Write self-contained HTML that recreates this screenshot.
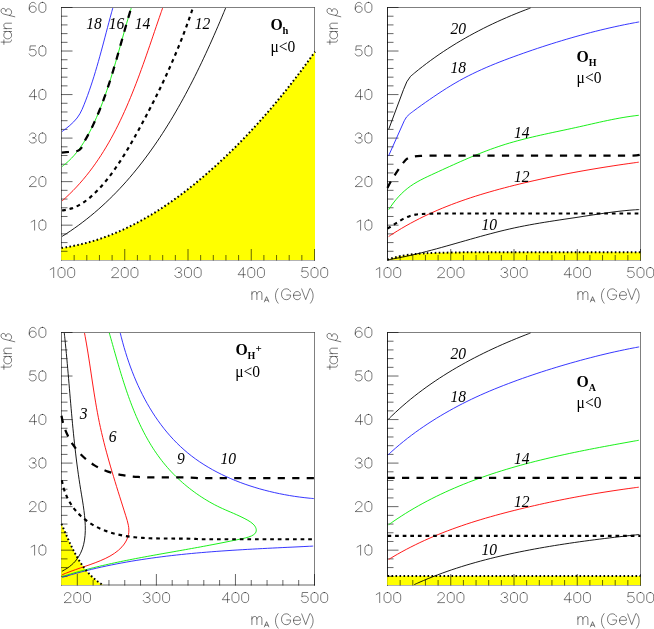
<!DOCTYPE html>
<html><head><meta charset="utf-8"><title>chart</title>
<style>
html,body{margin:0;padding:0;background:#fff;}
body{width:654px;height:629px;overflow:hidden;font-family:"Liberation Sans",sans-serif;}
svg{display:block;will-change:transform;}
text{fill:#000;}
</style></head><body>
<svg width="654" height="629" viewBox="0 0 654 629">
<rect width="654" height="629" fill="#fff"/>
<g>
<path d="M61.0,7.5 H315.0" stroke="#000" stroke-opacity="0.5" stroke-width="1" fill="none"/>
<path d="M314.5,7.5 V260.5" stroke="#000" stroke-opacity="0.5" stroke-width="1" fill="none"/>
<path d="M61.5,7.5 V260.5" stroke="#000" stroke-opacity="0.55" stroke-width="1" fill="none"/>
<path d="M61.0,260.0 H315.0" stroke="#000" stroke-opacity="0.6" stroke-width="1" fill="none"/>
<path d="M61.2,247.8 L61.52,247.89 C62.37,247.77 64.91,247.41 66.59,247.14 C68.28,246.86 69.95,246.57 71.62,246.25 C73.29,245.94 74.95,245.60 76.61,245.25 C78.26,244.89 79.91,244.52 81.55,244.12 C83.20,243.73 84.83,243.32 86.46,242.88 C88.08,242.45 89.70,242.00 91.32,241.53 C92.93,241.06 94.54,240.57 96.14,240.07 C97.74,239.56 99.33,239.04 100.92,238.50 C102.50,237.96 104.08,237.40 105.65,236.82 C107.23,236.25 108.79,235.66 110.35,235.05 C111.91,234.44 113.46,233.81 115.01,233.17 C116.55,232.53 118.09,231.88 119.63,231.20 C121.16,230.53 122.68,229.84 124.20,229.14 C125.72,228.44 127.24,227.72 128.74,226.99 C130.25,226.25 131.75,225.51 133.24,224.74 C134.73,223.98 136.22,223.21 137.70,222.42 C139.18,221.63 140.66,220.83 142.12,220.01 C143.59,219.20 145.05,218.37 146.51,217.53 C147.96,216.69 149.41,215.83 150.86,214.97 C152.30,214.10 153.74,213.22 155.17,212.33 C156.60,211.44 158.02,210.54 159.44,209.63 C160.86,208.71 162.27,207.79 163.67,206.85 C165.08,205.92 166.48,204.97 167.87,204.02 C169.26,203.06 170.65,202.09 172.03,201.12 C173.42,200.14 174.79,199.16 176.16,198.16 C177.53,197.17 178.89,196.16 180.25,195.15 C181.61,194.13 182.96,193.11 184.31,192.08 C185.65,191.05 186.99,190.01 188.33,188.96 C189.66,187.92 190.99,186.86 192.31,185.80 C193.63,184.74 194.95,183.67 196.26,182.59 C197.57,181.52 198.88,180.43 200.18,179.34 C201.48,178.25 202.77,177.15 204.06,176.05 C205.35,174.95 206.63,173.84 207.91,172.73 C209.19,171.61 210.46,170.49 211.72,169.36 C212.99,168.24 214.25,167.11 215.51,165.97 C216.76,164.83 218.01,163.69 219.26,162.54 C220.50,161.39 221.74,160.23 222.97,159.07 C224.21,157.91 225.44,156.75 226.66,155.58 C227.88,154.41 229.10,153.23 230.31,152.05 C231.52,150.87 232.73,149.68 233.93,148.49 C235.13,147.30 236.33,146.10 237.52,144.90 C238.71,143.70 239.90,142.49 241.08,141.28 C242.26,140.07 243.44,138.85 244.61,137.63 C245.78,136.41 246.95,135.19 248.11,133.96 C249.27,132.73 250.43,131.49 251.58,130.25 C252.73,129.02 253.87,127.77 255.01,126.53 C256.15,125.28 257.29,124.03 258.42,122.77 C259.55,121.51 260.68,120.25 261.80,118.99 C262.92,117.73 264.04,116.46 265.15,115.19 C266.26,113.92 267.37,112.64 268.47,111.36 C269.58,110.08 270.67,108.80 271.77,107.51 C272.86,106.22 273.95,104.93 275.03,103.64 C276.12,102.34 277.19,101.05 278.27,99.75 C279.34,98.45 280.41,97.14 281.48,95.83 C282.54,94.53 283.60,93.22 284.66,91.90 C285.72,90.59 286.77,89.27 287.82,87.95 C288.86,86.63 289.91,85.31 290.95,83.98 C291.98,82.66 293.02,81.33 294.05,80.00 C295.08,78.66 296.10,77.33 297.13,75.99 C298.15,74.66 299.16,73.32 300.18,71.98 C301.19,70.63 302.20,69.29 303.20,67.94 C304.21,66.60 305.21,65.25 306.20,63.90 C307.20,62.55 308.19,61.19 309.18,59.84 C310.17,58.48 311.15,57.12 312.13,55.76 C313.11,54.40 314.57,52.36 315.06,51.68 L315,260 L61.2,260 Z" fill="#ffff00"/>
<path d="M61.00,251.29 h6.5 M61.00,242.59 h6.5 M61.00,233.88 h6.5 M61.00,225.17 h11.5 M61.00,216.47 h6.5 M61.00,207.76 h6.5 M61.00,199.05 h6.5 M61.00,190.34 h6.5 M61.00,181.64 h11.5 M61.00,172.93 h6.5 M61.00,164.22 h6.5 M61.00,155.52 h6.5 M61.00,146.81 h6.5 M61.00,138.10 h11.5 M61.00,129.40 h6.5 M61.00,120.69 h6.5 M61.00,111.98 h6.5 M61.00,103.28 h6.5 M61.00,94.57 h11.5 M61.00,85.86 h6.5 M61.00,77.16 h6.5 M61.00,68.45 h6.5 M61.00,59.74 h6.5 M61.00,51.03 h11.5 M61.00,42.33 h6.5 M61.00,33.62 h6.5 M61.00,24.91 h6.5 M61.00,16.21 h6.5 M61.00,7.50 h11.5 M74.15,260.50 v-5.5 M86.80,260.50 v-5.5 M99.45,260.50 v-5.5 M112.10,260.50 v-5.5 M124.75,260.50 v-11.5 M137.40,260.50 v-5.5 M150.05,260.50 v-5.5 M162.70,260.50 v-5.5 M175.35,260.50 v-5.5 M188.00,260.50 v-11.5 M200.65,260.50 v-5.5 M213.30,260.50 v-5.5 M225.95,260.50 v-5.5 M238.60,260.50 v-5.5 M251.25,260.50 v-11.5 M263.90,260.50 v-5.5 M276.55,260.50 v-5.5 M289.20,260.50 v-5.5 M301.85,260.50 v-5.5 M314.50,260.50 v-11.5" stroke="#000" stroke-opacity="0.6" stroke-width="1" fill="none"/>
<path d="M62.00,131.59 C62.65,131.11 64.57,129.71 65.88,128.69 C67.19,127.67 68.55,126.59 69.84,125.45 C71.14,124.32 72.45,123.13 73.65,121.89 C74.86,120.65 76.03,119.35 77.07,118.00 C78.10,116.65 79.03,115.24 79.87,113.80 C80.71,112.36 81.40,110.86 82.10,109.36 C82.79,107.85 83.39,106.31 84.02,104.77 C84.64,103.23 85.24,101.68 85.84,100.12 C86.43,98.56 87.01,97.00 87.59,95.43 C88.16,93.86 88.72,92.28 89.28,90.70 C89.83,89.11 90.37,87.52 90.90,85.93 C91.44,84.33 91.96,82.73 92.48,81.13 C93.00,79.52 93.50,77.91 94.00,76.30 C94.51,74.69 95.00,73.07 95.48,71.45 C95.97,69.82 96.45,68.20 96.92,66.57 C97.40,64.95 97.87,63.31 98.33,61.68 C98.79,60.05 99.25,58.42 99.70,56.78 C100.16,55.15 100.61,53.51 101.05,51.87 C101.50,50.23 101.94,48.60 102.38,46.96 C102.82,45.32 103.26,43.68 103.69,42.05 C104.13,40.41 104.56,38.77 104.99,37.14 C105.42,35.50 105.85,33.87 106.28,32.24 C106.71,30.61 107.14,28.98 107.57,27.35 C108.00,25.72 108.43,24.10 108.86,22.48 C109.29,20.86 109.73,19.24 110.16,17.63 C110.60,16.01 111.03,14.40 111.47,12.80 C111.91,11.20 112.58,8.80 112.80,8.00" stroke="#2020ff" fill="none" stroke-width="0.9"/>
<path d="M62.04,166.55 C62.60,166.11 64.31,164.81 65.39,163.91 C66.47,163.01 67.51,162.09 68.52,161.15 C69.54,160.21 70.51,159.25 71.46,158.27 C72.41,157.30 73.33,156.30 74.22,155.29 C75.11,154.28 75.97,153.26 76.80,152.22 C77.64,151.18 78.45,150.12 79.24,149.05 C80.02,147.98 80.78,146.90 81.53,145.80 C82.27,144.70 82.99,143.59 83.69,142.47 C84.40,141.35 85.08,140.21 85.75,139.07 C86.42,137.92 87.07,136.77 87.71,135.60 C88.35,134.44 88.97,133.26 89.58,132.08 C90.20,130.89 90.80,129.70 91.39,128.50 C91.99,127.30 92.57,126.09 93.15,124.88 C93.72,123.66 94.29,122.44 94.84,121.21 C95.40,119.99 95.95,118.75 96.49,117.51 C97.03,116.27 97.57,115.02 98.09,113.76 C98.62,112.51 99.13,111.25 99.64,109.98 C100.15,108.72 100.65,107.45 101.15,106.17 C101.64,104.90 102.13,103.61 102.61,102.33 C103.10,101.04 103.57,99.75 104.04,98.46 C104.51,97.17 104.97,95.87 105.43,94.57 C105.88,93.26 106.33,91.96 106.78,90.65 C107.22,89.34 107.66,88.03 108.10,86.71 C108.53,85.40 108.96,84.08 109.39,82.76 C109.81,81.44 110.23,80.12 110.65,78.79 C111.07,77.47 111.48,76.14 111.89,74.82 C112.29,73.49 112.70,72.16 113.10,70.83 C113.50,69.50 113.89,68.17 114.29,66.84 C114.68,65.50 115.07,64.17 115.46,62.84 C115.85,61.51 116.23,60.17 116.62,58.84 C117.00,57.51 117.38,56.18 117.76,54.85 C118.14,53.52 118.51,52.18 118.89,50.86 C119.26,49.53 119.64,48.20 120.01,46.87 C120.38,45.55 120.75,44.22 121.12,42.90 C121.49,41.58 121.86,40.25 122.23,38.94 C122.60,37.62 122.97,36.30 123.34,34.99 C123.71,33.68 124.08,32.37 124.45,31.06 C124.81,29.76 125.18,28.45 125.55,27.15 C125.92,25.86 126.30,24.56 126.67,23.27 C127.04,21.98 127.41,20.69 127.79,19.41 C128.16,18.13 128.54,16.85 128.92,15.58 C129.30,14.31 129.68,13.04 130.06,11.78 C130.44,10.52 131.02,8.64 131.21,8.02" stroke="#00ee00" fill="none" stroke-width="0.9"/>
<path d="M62.05,200.96 C62.67,200.40 64.58,198.72 65.82,197.58 C67.06,196.44 68.28,195.29 69.48,194.12 C70.69,192.96 71.88,191.78 73.05,190.59 C74.22,189.39 75.37,188.19 76.50,186.97 C77.64,185.75 78.76,184.52 79.86,183.28 C80.97,182.04 82.06,180.78 83.13,179.52 C84.20,178.25 85.26,176.98 86.30,175.69 C87.34,174.40 88.36,173.10 89.38,171.79 C90.39,170.48 91.38,169.16 92.37,167.83 C93.35,166.50 94.32,165.15 95.27,163.80 C96.23,162.45 97.17,161.09 98.09,159.72 C99.02,158.35 99.93,156.97 100.83,155.58 C101.74,154.19 102.62,152.79 103.50,151.38 C104.38,149.98 105.24,148.56 106.09,147.14 C106.94,145.71 107.78,144.28 108.61,142.84 C109.44,141.40 110.25,139.95 111.06,138.50 C111.86,137.04 112.66,135.58 113.44,134.11 C114.22,132.64 114.99,131.16 115.76,129.68 C116.52,128.20 117.27,126.71 118.02,125.21 C118.76,123.72 119.49,122.21 120.21,120.71 C120.94,119.20 121.65,117.68 122.36,116.17 C123.06,114.65 123.76,113.12 124.45,111.59 C125.14,110.07 125.82,108.53 126.49,106.99 C127.16,105.45 127.83,103.91 128.48,102.36 C129.14,100.82 129.79,99.27 130.43,97.71 C131.08,96.16 131.71,94.60 132.34,93.04 C132.97,91.48 133.59,89.91 134.21,88.34 C134.83,86.78 135.44,85.21 136.04,83.63 C136.64,82.06 137.24,80.49 137.84,78.91 C138.43,77.33 139.02,75.75 139.60,74.17 C140.19,72.59 140.77,71.01 141.34,69.43 C141.92,67.84 142.49,66.26 143.06,64.67 C143.62,63.09 144.19,61.50 144.75,59.92 C145.31,58.33 145.86,56.75 146.42,55.16 C146.97,53.57 147.52,51.99 148.07,50.40 C148.62,48.82 149.16,47.23 149.71,45.65 C150.25,44.06 150.79,42.48 151.33,40.90 C151.87,39.32 152.41,37.73 152.95,36.16 C153.49,34.58 154.02,33.00 154.56,31.43 C155.10,29.85 155.63,28.28 156.17,26.71 C156.70,25.14 157.24,23.57 157.77,22.01 C158.31,20.44 158.84,18.88 159.38,17.32 C159.92,15.77 160.45,14.21 160.99,12.66 C161.53,11.11 162.34,8.80 162.61,8.02" stroke="#ff0000" fill="none" stroke-width="0.9"/>
<path d="M62.02,236.44 C62.73,235.99 64.88,234.64 66.30,233.72 C67.72,232.80 69.12,231.87 70.52,230.93 C71.91,229.98 73.30,229.03 74.67,228.06 C76.04,227.09 77.40,226.12 78.76,225.13 C80.11,224.14 81.45,223.14 82.78,222.12 C84.11,221.11 85.43,220.09 86.74,219.05 C88.05,218.02 89.35,216.97 90.64,215.92 C91.93,214.86 93.21,213.80 94.48,212.72 C95.75,211.64 97.01,210.56 98.26,209.46 C99.51,208.36 100.75,207.25 101.98,206.14 C103.21,205.02 104.43,203.89 105.64,202.75 C106.86,201.62 108.06,200.47 109.25,199.31 C110.44,198.16 111.62,196.99 112.80,195.82 C113.97,194.64 115.13,193.46 116.29,192.27 C117.44,191.07 118.59,189.87 119.73,188.66 C120.86,187.45 121.99,186.23 123.11,185.01 C124.23,183.78 125.34,182.54 126.44,181.30 C127.54,180.05 128.63,178.80 129.72,177.54 C130.80,176.28 131.87,175.01 132.94,173.74 C134.01,172.46 135.07,171.18 136.12,169.88 C137.17,168.59 138.21,167.29 139.24,165.99 C140.28,164.68 141.30,163.37 142.32,162.05 C143.34,160.73 144.34,159.40 145.35,158.07 C146.35,156.73 147.34,155.39 148.33,154.04 C149.31,152.70 150.29,151.34 151.26,149.98 C152.23,148.62 153.19,147.26 154.15,145.88 C155.10,144.51 156.05,143.13 156.99,141.75 C157.93,140.36 158.87,138.97 159.79,137.58 C160.72,136.18 161.64,134.78 162.55,133.37 C163.46,131.97 164.36,130.56 165.26,129.14 C166.16,127.72 167.05,126.30 167.93,124.87 C168.82,123.45 169.70,122.01 170.57,120.58 C171.44,119.14 172.30,117.70 173.16,116.26 C174.02,114.81 174.87,113.36 175.71,111.91 C176.56,110.45 177.40,109.00 178.23,107.53 C179.06,106.07 179.89,104.61 180.71,103.14 C181.53,101.67 182.34,100.20 183.15,98.72 C183.95,97.24 184.76,95.76 185.55,94.28 C186.35,92.80 187.14,91.31 187.92,89.82 C188.71,88.34 189.49,86.84 190.26,85.35 C191.03,83.86 191.80,82.36 192.57,80.86 C193.33,79.36 194.09,77.86 194.84,76.36 C195.59,74.85 196.34,73.35 197.08,71.84 C197.82,70.33 198.56,68.82 199.29,67.31 C200.02,65.80 200.75,64.28 201.47,62.77 C202.19,61.25 202.91,59.74 203.62,58.22 C204.33,56.70 205.04,55.18 205.74,53.67 C206.45,52.15 207.15,50.62 207.84,49.10 C208.54,47.58 209.23,46.06 209.91,44.54 C210.60,43.02 211.28,41.49 211.96,39.97 C212.63,38.45 213.31,36.92 213.98,35.40 C214.65,33.88 215.31,32.35 215.97,30.83 C216.63,29.31 217.29,27.78 217.95,26.26 C218.60,24.74 219.25,23.22 219.90,21.70 C220.54,20.18 221.19,18.66 221.83,17.14 C222.47,15.62 223.10,14.10 223.74,12.58 C224.37,11.06 225.31,8.79 225.63,8.03" stroke="#000" fill="none" stroke-width="0.9"/>
<path d="M61.80,152.60 C62.93,152.50 66.23,152.22 68.60,152.00 C70.97,151.78 74.18,151.67 76.00,151.30 C77.82,150.93 78.50,150.50 79.50,149.80 C80.50,149.10 81.30,148.32 82.00,147.10 C82.70,145.88 83.07,143.81 83.69,142.47 C84.32,141.13 85.08,140.21 85.75,139.07 C86.42,137.92 87.07,136.77 87.71,135.60 C88.35,134.44 88.97,133.26 89.58,132.08 C90.20,130.89 90.80,129.70 91.39,128.50 C91.99,127.30 92.57,126.09 93.15,124.88 C93.72,123.66 94.29,122.44 94.84,121.21 C95.40,119.99 95.95,118.75 96.49,117.51 C97.03,116.27 97.57,115.02 98.09,113.76 C98.62,112.51 99.13,111.25 99.64,109.98 C100.15,108.72 100.65,107.45 101.15,106.17 C101.64,104.90 102.13,103.61 102.61,102.33 C103.10,101.04 103.57,99.75 104.04,98.46 C104.51,97.17 104.97,95.87 105.43,94.57 C105.88,93.26 106.33,91.96 106.78,90.65 C107.22,89.34 107.66,88.03 108.10,86.71 C108.53,85.40 108.96,84.08 109.39,82.76 C109.81,81.44 110.23,80.12 110.65,78.79 C111.07,77.47 111.48,76.14 111.89,74.82 C112.29,73.49 112.70,72.16 113.10,70.83 C113.50,69.50 113.89,68.17 114.29,66.84 C114.68,65.50 115.07,64.17 115.46,62.84 C115.85,61.51 116.23,60.17 116.62,58.84 C117.00,57.51 117.38,56.18 117.76,54.85 C118.14,53.52 118.51,52.18 118.89,50.86 C119.26,49.53 119.64,48.20 120.01,46.87 C120.38,45.55 120.75,44.22 121.12,42.90 C121.49,41.58 121.86,40.25 122.23,38.94 C122.60,37.62 122.97,36.30 123.34,34.99 C123.71,33.68 124.08,32.37 124.45,31.06 C124.81,29.76 125.18,28.45 125.55,27.15 C125.92,25.86 126.30,24.56 126.67,23.27 C127.04,21.98 127.41,20.69 127.79,19.41 C128.16,18.13 128.54,16.85 128.92,15.58 C129.30,14.31 129.68,13.04 130.06,11.78 C130.44,10.52 131.02,8.64 131.21,8.02" fill="none" stroke="#000" stroke-width="2.25" stroke-dasharray="7.2 7.3"/>
<path d="M62.09,210.49 C62.91,210.36 65.42,210.05 67.03,209.69 C68.64,209.34 70.22,208.89 71.76,208.36 C73.30,207.83 74.80,207.21 76.27,206.53 C77.74,205.85 79.18,205.09 80.59,204.27 C82.00,203.44 83.38,202.55 84.73,201.61 C86.08,200.67 87.40,199.66 88.69,198.61 C89.99,197.57 91.25,196.47 92.50,195.33 C93.74,194.20 94.96,193.02 96.16,191.81 C97.35,190.61 98.52,189.37 99.68,188.11 C100.83,186.85 101.96,185.57 103.08,184.27 C104.19,182.98 105.29,181.66 106.36,180.33 C107.44,179.00 108.50,177.66 109.55,176.30 C110.59,174.94 111.62,173.57 112.63,172.19 C113.64,170.80 114.63,169.41 115.62,168.00 C116.60,166.59 117.57,165.17 118.52,163.75 C119.48,162.32 120.42,160.88 121.35,159.43 C122.28,157.99 123.19,156.53 124.10,155.07 C125.01,153.61 125.90,152.14 126.79,150.67 C127.68,149.19 128.55,147.71 129.42,146.23 C130.29,144.74 131.15,143.25 132.00,141.76 C132.86,140.27 133.70,138.78 134.54,137.28 C135.38,135.78 136.21,134.29 137.04,132.79 C137.87,131.29 138.69,129.79 139.51,128.29 C140.32,126.80 141.14,125.30 141.95,123.80 C142.76,122.30 143.56,120.80 144.36,119.30 C145.16,117.80 145.95,116.31 146.74,114.81 C147.53,113.31 148.31,111.80 149.09,110.30 C149.87,108.80 150.65,107.30 151.42,105.80 C152.18,104.29 152.95,102.79 153.71,101.28 C154.47,99.77 155.22,98.27 155.97,96.76 C156.72,95.25 157.47,93.74 158.21,92.23 C158.94,90.71 159.68,89.20 160.41,87.68 C161.14,86.17 161.86,84.65 162.58,83.13 C163.30,81.61 164.01,80.09 164.72,78.56 C165.43,77.04 166.13,75.51 166.83,73.98 C167.53,72.45 168.22,70.92 168.91,69.38 C169.60,67.85 170.28,66.31 170.96,64.77 C171.64,63.23 172.31,61.68 172.97,60.14 C173.64,58.59 174.30,57.04 174.96,55.48 C175.61,53.93 176.26,52.37 176.91,50.81 C177.55,49.25 178.19,47.68 178.83,46.11 C179.46,44.54 180.09,42.97 180.72,41.39 C181.34,39.82 181.96,38.23 182.57,36.65 C183.18,35.06 183.79,33.47 184.39,31.88 C184.99,30.28 185.59,28.68 186.18,27.08 C186.77,25.47 187.35,23.87 187.93,22.25 C188.51,20.64 189.08,19.02 189.65,17.39 C190.22,15.77 190.78,14.14 191.34,12.50 C191.89,10.87 192.71,8.40 192.99,7.58" fill="none" stroke="#000" stroke-width="2.15" stroke-dasharray="3.7 3.9"/>
<path d="M61.52,247.89 C62.37,247.77 64.91,247.41 66.59,247.14 C68.28,246.86 69.95,246.57 71.62,246.25 C73.29,245.94 74.95,245.60 76.61,245.25 C78.26,244.89 79.91,244.52 81.55,244.12 C83.20,243.73 84.83,243.32 86.46,242.88 C88.08,242.45 89.70,242.00 91.32,241.53 C92.93,241.06 94.54,240.57 96.14,240.07 C97.74,239.56 99.33,239.04 100.92,238.50 C102.50,237.96 104.08,237.40 105.65,236.82 C107.23,236.25 108.79,235.66 110.35,235.05 C111.91,234.44 113.46,233.81 115.01,233.17 C116.55,232.53 118.09,231.88 119.63,231.20 C121.16,230.53 122.68,229.84 124.20,229.14 C125.72,228.44 127.24,227.72 128.74,226.99 C130.25,226.25 131.75,225.51 133.24,224.74 C134.73,223.98 136.22,223.21 137.70,222.42 C139.18,221.63 140.66,220.83 142.12,220.01 C143.59,219.20 145.05,218.37 146.51,217.53 C147.96,216.69 149.41,215.83 150.86,214.97 C152.30,214.10 153.74,213.22 155.17,212.33 C156.60,211.44 158.02,210.54 159.44,209.63 C160.86,208.71 162.27,207.79 163.67,206.85 C165.08,205.92 166.48,204.97 167.87,204.02 C169.26,203.06 170.65,202.09 172.03,201.12 C173.42,200.14 174.79,199.16 176.16,198.16 C177.53,197.17 178.89,196.16 180.25,195.15 C181.61,194.13 182.96,193.11 184.31,192.08 C185.65,191.05 186.99,190.01 188.33,188.96 C189.66,187.92 190.99,186.86 192.31,185.80 C193.63,184.74 194.95,183.67 196.26,182.59 C197.57,181.52 198.88,180.43 200.18,179.34 C201.48,178.25 202.77,177.15 204.06,176.05 C205.35,174.95 206.63,173.84 207.91,172.73 C209.19,171.61 210.46,170.49 211.72,169.36 C212.99,168.24 214.25,167.11 215.51,165.97 C216.76,164.83 218.01,163.69 219.26,162.54 C220.50,161.39 221.74,160.23 222.97,159.07 C224.21,157.91 225.44,156.75 226.66,155.58 C227.88,154.41 229.10,153.23 230.31,152.05 C231.52,150.87 232.73,149.68 233.93,148.49 C235.13,147.30 236.33,146.10 237.52,144.90 C238.71,143.70 239.90,142.49 241.08,141.28 C242.26,140.07 243.44,138.85 244.61,137.63 C245.78,136.41 246.95,135.19 248.11,133.96 C249.27,132.73 250.43,131.49 251.58,130.25 C252.73,129.02 253.87,127.77 255.01,126.53 C256.15,125.28 257.29,124.03 258.42,122.77 C259.55,121.51 260.68,120.25 261.80,118.99 C262.92,117.73 264.04,116.46 265.15,115.19 C266.26,113.92 267.37,112.64 268.47,111.36 C269.58,110.08 270.67,108.80 271.77,107.51 C272.86,106.22 273.95,104.93 275.03,103.64 C276.12,102.34 277.19,101.05 278.27,99.75 C279.34,98.45 280.41,97.14 281.48,95.83 C282.54,94.53 283.60,93.22 284.66,91.90 C285.72,90.59 286.77,89.27 287.82,87.95 C288.86,86.63 289.91,85.31 290.95,83.98 C291.98,82.66 293.02,81.33 294.05,80.00 C295.08,78.66 296.10,77.33 297.13,75.99 C298.15,74.66 299.16,73.32 300.18,71.98 C301.19,70.63 302.20,69.29 303.20,67.94 C304.21,66.60 305.21,65.25 306.20,63.90 C307.20,62.55 308.19,61.19 309.18,59.84 C310.17,58.48 311.15,57.12 312.13,55.76 C313.11,54.40 314.57,52.36 315.06,51.68" fill="none" stroke="#000" stroke-width="2.0" stroke-dasharray="1.6 2.4"/>
<g stroke="#000" stroke-opacity="0.55" stroke-width="0.95" fill="none" stroke-linecap="round" stroke-linejoin="round">
<path transform="translate(29.20,220.02)" d="M1.9,2.1 L5.4,0 L5.4,10.1"/><path transform="translate(38.90,220.02)" d="M3.5,0 C1.3,0 0,1.5 0,3.6 L0,6.5 C0,8.6 1.3,10.1 3.5,10.1 C5.7,10.1 7,8.6 7,6.5 L7,3.6 C7,1.5 5.7,0 3.5,0 Z"/>
<path transform="translate(29.20,176.49)" d="M0.3,2.9 C0.3,1.2 1.6,0 3.5,0 C5.4,0 6.8,1.2 6.8,2.8 C6.8,4.1 5.9,5.1 4.6,6.2 L0,10.1 L7,10.1"/><path transform="translate(38.90,176.49)" d="M3.5,0 C1.3,0 0,1.5 0,3.6 L0,6.5 C0,8.6 1.3,10.1 3.5,10.1 C5.7,10.1 7,8.6 7,6.5 L7,3.6 C7,1.5 5.7,0 3.5,0 Z"/>
<path transform="translate(29.20,132.95)" d="M0.4,2.2 C0.8,0.8 2,0 3.5,0 C5.3,0 6.6,1.1 6.6,2.6 C6.6,4 5.4,4.9 3.3,4.9 C5.6,4.9 7,5.9 7,7.5 C7,9.1 5.6,10.1 3.5,10.1 C1.8,10.1 0.5,9.3 0,7.9"/><path transform="translate(38.90,132.95)" d="M3.5,0 C1.3,0 0,1.5 0,3.6 L0,6.5 C0,8.6 1.3,10.1 3.5,10.1 C5.7,10.1 7,8.6 7,6.5 L7,3.6 C7,1.5 5.7,0 3.5,0 Z"/>
<path transform="translate(29.20,89.42)" d="M5.3,10.1 L5.3,0 L0,7.2 L7.4,7.2"/><path transform="translate(38.90,89.42)" d="M3.5,0 C1.3,0 0,1.5 0,3.6 L0,6.5 C0,8.6 1.3,10.1 3.5,10.1 C5.7,10.1 7,8.6 7,6.5 L7,3.6 C7,1.5 5.7,0 3.5,0 Z"/>
<path transform="translate(29.20,45.88)" d="M6.4,0 L1,0 L0.5,4.5 C1.3,3.8 2.4,3.5 3.5,3.5 C5.6,3.5 7,4.8 7,6.8 C7,8.8 5.6,10.1 3.5,10.1 C1.8,10.1 0.6,9.4 0,8"/><path transform="translate(38.90,45.88)" d="M3.5,0 C1.3,0 0,1.5 0,3.6 L0,6.5 C0,8.6 1.3,10.1 3.5,10.1 C5.7,10.1 7,8.6 7,6.5 L7,3.6 C7,1.5 5.7,0 3.5,0 Z"/>
<path transform="translate(29.20,2.35)" d="M6.4,1.6 C5.9,0.6 4.9,0 3.7,0 C1.4,0 0,2 0,5.4 C0,8.4 1.3,10.1 3.5,10.1 C5.5,10.1 7,8.8 7,6.8 C7,4.9 5.6,3.7 3.6,3.7 C1.6,3.7 0,4.9 0,6.8"/><path transform="translate(38.90,2.35)" d="M3.5,0 C1.3,0 0,1.5 0,3.6 L0,6.5 C0,8.6 1.3,10.1 3.5,10.1 C5.7,10.1 7,8.6 7,6.5 L7,3.6 C7,1.5 5.7,0 3.5,0 Z"/>
<path transform="translate(48.30,267.50)" d="M1.9,2.1 L5.4,0 L5.4,10.1"/><path transform="translate(58.00,267.50)" d="M3.5,0 C1.3,0 0,1.5 0,3.6 L0,6.5 C0,8.6 1.3,10.1 3.5,10.1 C5.7,10.1 7,8.6 7,6.5 L7,3.6 C7,1.5 5.7,0 3.5,0 Z"/><path transform="translate(67.70,267.50)" d="M3.5,0 C1.3,0 0,1.5 0,3.6 L0,6.5 C0,8.6 1.3,10.1 3.5,10.1 C5.7,10.1 7,8.6 7,6.5 L7,3.6 C7,1.5 5.7,0 3.5,0 Z"/>
<path transform="translate(111.55,267.50)" d="M0.3,2.9 C0.3,1.2 1.6,0 3.5,0 C5.4,0 6.8,1.2 6.8,2.8 C6.8,4.1 5.9,5.1 4.6,6.2 L0,10.1 L7,10.1"/><path transform="translate(121.25,267.50)" d="M3.5,0 C1.3,0 0,1.5 0,3.6 L0,6.5 C0,8.6 1.3,10.1 3.5,10.1 C5.7,10.1 7,8.6 7,6.5 L7,3.6 C7,1.5 5.7,0 3.5,0 Z"/><path transform="translate(130.95,267.50)" d="M3.5,0 C1.3,0 0,1.5 0,3.6 L0,6.5 C0,8.6 1.3,10.1 3.5,10.1 C5.7,10.1 7,8.6 7,6.5 L7,3.6 C7,1.5 5.7,0 3.5,0 Z"/>
<path transform="translate(174.80,267.50)" d="M0.4,2.2 C0.8,0.8 2,0 3.5,0 C5.3,0 6.6,1.1 6.6,2.6 C6.6,4 5.4,4.9 3.3,4.9 C5.6,4.9 7,5.9 7,7.5 C7,9.1 5.6,10.1 3.5,10.1 C1.8,10.1 0.5,9.3 0,7.9"/><path transform="translate(184.50,267.50)" d="M3.5,0 C1.3,0 0,1.5 0,3.6 L0,6.5 C0,8.6 1.3,10.1 3.5,10.1 C5.7,10.1 7,8.6 7,6.5 L7,3.6 C7,1.5 5.7,0 3.5,0 Z"/><path transform="translate(194.20,267.50)" d="M3.5,0 C1.3,0 0,1.5 0,3.6 L0,6.5 C0,8.6 1.3,10.1 3.5,10.1 C5.7,10.1 7,8.6 7,6.5 L7,3.6 C7,1.5 5.7,0 3.5,0 Z"/>
<path transform="translate(238.05,267.50)" d="M5.3,10.1 L5.3,0 L0,7.2 L7.4,7.2"/><path transform="translate(247.75,267.50)" d="M3.5,0 C1.3,0 0,1.5 0,3.6 L0,6.5 C0,8.6 1.3,10.1 3.5,10.1 C5.7,10.1 7,8.6 7,6.5 L7,3.6 C7,1.5 5.7,0 3.5,0 Z"/><path transform="translate(257.45,267.50)" d="M3.5,0 C1.3,0 0,1.5 0,3.6 L0,6.5 C0,8.6 1.3,10.1 3.5,10.1 C5.7,10.1 7,8.6 7,6.5 L7,3.6 C7,1.5 5.7,0 3.5,0 Z"/>
<path transform="translate(301.30,267.50)" d="M6.4,0 L1,0 L0.5,4.5 C1.3,3.8 2.4,3.5 3.5,3.5 C5.6,3.5 7,4.8 7,6.8 C7,8.8 5.6,10.1 3.5,10.1 C1.8,10.1 0.6,9.4 0,8"/><path transform="translate(311.00,267.50)" d="M3.5,0 C1.3,0 0,1.5 0,3.6 L0,6.5 C0,8.6 1.3,10.1 3.5,10.1 C5.7,10.1 7,8.6 7,6.5 L7,3.6 C7,1.5 5.7,0 3.5,0 Z"/><path transform="translate(320.70,267.50)" d="M3.5,0 C1.3,0 0,1.5 0,3.6 L0,6.5 C0,8.6 1.3,10.1 3.5,10.1 C5.7,10.1 7,8.6 7,6.5 L7,3.6 C7,1.5 5.7,0 3.5,0 Z"/>
<path transform="translate(11.50,44.40) rotate(-90)" d="M2.3,-10.4 L2.3,-2.2 C2.3,-0.8 3,0 4.4,0 M0,-7.6 L4.5,-7.6 M12.9,-7.6 L12.9,0 M12.9,-5.4 C12.2,-6.8 10.9,-7.7 9.3,-7.7 C7,-7.7 5.5,-6.1 5.5,-3.8 C5.5,-1.5 7,0.1 9.3,0.1 C10.9,0.1 12.2,-0.8 12.9,-2.2 M15.8,-7.6 L15.8,0 M15.8,-5.2 C16.5,-6.8 17.5,-7.7 18.9,-7.7 C20.4,-7.7 21.2,-6.8 21.2,-5.1 L21.2,0 M27.6,3.3 L30.3,-7.6 C30.8,-9.4 32,-10.5 33.6,-10.5 C35.1,-10.5 36,-9.6 36,-8.3 C36,-6.8 34.8,-5.7 32.8,-5.6 C34.6,-5.5 35.6,-4.6 35.6,-3.2 C35.6,-1.3 34.1,0.1 32.2,0.1 C30.7,0.1 29.6,-0.6 29.2,-1.9"/>
<path transform="translate(251.90,299.60)" d="M0,-8 L0,0 M0,-5.6 C0.5,-7.2 1.5,-8.1 2.8,-8.1 C4.3,-8.1 5,-7.2 5,-5.5 L5,0 M5,-5.6 C5.5,-7.2 6.5,-8.1 7.8,-8.1 C9.3,-8.1 10,-7.2 10,-5.5 L10,0 M12.5,2.3 L14.7,-2.9 L16.9,2.3 M13.3,0.6 L16.1,0.6 M26.2,-11 C24.4,-8.8 23.6,-6.4 23.6,-3.8 C23.6,-1.2 24.4,1.4 26.2,3.6 M38.6,-8 C37.9,-9.7 36.4,-10.8 34.4,-10.8 C31.4,-10.8 29.6,-8.6 29.6,-5.4 C29.6,-2.2 31.4,0.1 34.4,0.1 C36.9,0.1 38.7,-1.5 38.7,-4.2 L38.7,-4.6 L34.8,-4.6 M41.6,-4.3 L48.6,-4.3 C48.6,-6.6 47.3,-8.1 45.2,-8.1 C43,-8.1 41.6,-6.4 41.6,-4 C41.6,-1.6 43,0.1 45.3,0.1 C46.8,0.1 47.9,-0.6 48.5,-1.8 M49.8,-10.7 L53.8,0 L57.8,-10.7 M58.6,-11 C60.4,-8.8 61.2,-6.4 61.2,-3.8 C61.2,-1.2 60.4,1.4 58.6,3.6"/>
</g>
<text transform="translate(86.3,29.2) scale(0.885,1)" font-family="Liberation Serif, serif" font-style="italic" font-size="17.6">18</text>
<text transform="translate(108.7,29.2) scale(0.885,1)" font-family="Liberation Serif, serif" font-style="italic" font-size="17.6">16</text>
<text transform="translate(134.7,29.2) scale(0.885,1)" font-family="Liberation Serif, serif" font-style="italic" font-size="17.6">14</text>
<text transform="translate(194.7,29.2) scale(0.885,1)" font-family="Liberation Serif, serif" font-style="italic" font-size="17.6">12</text>
<text transform="translate(270.5,29.5) scale(0.9,1)" font-family="Liberation Serif, serif" font-weight="bold" font-size="17.5">O</text><text x="282.6" y="34.1" font-family="Liberation Serif, serif" font-weight="bold" font-size="10.5">h</text>
<text transform="translate(270.4,52.3) scale(0.97,1)" font-family="Liberation Serif, serif" font-size="16">μ&lt;0</text>
</g>
<g>
<path d="M387.0,7.5 H641.0" stroke="#000" stroke-opacity="0.5" stroke-width="1" fill="none"/>
<path d="M640.5,7.5 V260.5" stroke="#000" stroke-opacity="0.5" stroke-width="1" fill="none"/>
<path d="M387.5,7.5 V260.5" stroke="#000" stroke-opacity="0.85" stroke-width="1" fill="none"/>
<path d="M387.0,260.0 H641.0" stroke="#000" stroke-opacity="0.6" stroke-width="1" fill="none"/>
<path d="M387.50,259.80 C389.12,259.30 393.53,257.65 397.20,256.80 C400.87,255.95 405.42,255.25 409.50,254.70 C413.58,254.15 417.63,253.80 421.70,253.50 C425.77,253.20 426.68,253.10 433.90,252.90 C441.12,252.70 459.82,252.40 465.00,252.30 L641,252.3 L641,260 L387.2,260 Z" fill="#ffff00"/>
<path d="M387.00,251.29 h6.5 M387.00,242.59 h6.5 M387.00,233.88 h6.5 M387.00,225.17 h11.5 M387.00,216.47 h6.5 M387.00,207.76 h6.5 M387.00,199.05 h6.5 M387.00,190.34 h6.5 M387.00,181.64 h11.5 M387.00,172.93 h6.5 M387.00,164.22 h6.5 M387.00,155.52 h6.5 M387.00,146.81 h6.5 M387.00,138.10 h11.5 M387.00,129.40 h6.5 M387.00,120.69 h6.5 M387.00,111.98 h6.5 M387.00,103.28 h6.5 M387.00,94.57 h11.5 M387.00,85.86 h6.5 M387.00,77.16 h6.5 M387.00,68.45 h6.5 M387.00,59.74 h6.5 M387.00,51.03 h11.5 M387.00,42.33 h6.5 M387.00,33.62 h6.5 M387.00,24.91 h6.5 M387.00,16.21 h6.5 M387.00,7.50 h11.5 M400.15,260.50 v-5.5 M412.80,260.50 v-5.5 M425.45,260.50 v-5.5 M438.10,260.50 v-5.5 M450.75,260.50 v-11.5 M463.40,260.50 v-5.5 M476.05,260.50 v-5.5 M488.70,260.50 v-5.5 M501.35,260.50 v-5.5 M514.00,260.50 v-11.5 M526.65,260.50 v-5.5 M539.30,260.50 v-5.5 M551.95,260.50 v-5.5 M564.60,260.50 v-5.5 M577.25,260.50 v-11.5 M589.90,260.50 v-5.5 M602.55,260.50 v-5.5 M615.20,260.50 v-5.5 M627.85,260.50 v-5.5 M640.50,260.50 v-11.5" stroke="#000" stroke-opacity="0.6" stroke-width="1" fill="none"/>
<path d="M388.7,129.3 L403.5,89.6 Q406.6,80.6 410.5,76.4 C411.14,75.84 413.11,74.16 414.43,73.07 C415.75,71.97 417.08,70.89 418.42,69.81 C419.76,68.74 421.10,67.67 422.46,66.62 C423.81,65.57 425.17,64.52 426.54,63.49 C427.91,62.46 429.29,61.44 430.67,60.43 C432.06,59.42 433.45,58.42 434.85,57.43 C436.24,56.44 437.65,55.46 439.06,54.49 C440.47,53.52 441.89,52.56 443.32,51.61 C444.75,50.67 446.18,49.73 447.62,48.80 C449.06,47.87 450.50,46.95 451.96,46.05 C453.41,45.14 454.87,44.24 456.33,43.35 C457.80,42.46 459.27,41.59 460.74,40.72 C462.22,39.85 463.70,38.99 465.19,38.14 C466.68,37.30 468.17,36.46 469.67,35.63 C471.17,34.80 472.68,33.98 474.19,33.17 C475.70,32.36 477.21,31.56 478.74,30.77 C480.26,29.98 481.78,29.20 483.31,28.43 C484.84,27.66 486.38,26.89 487.92,26.14 C489.46,25.39 491.00,24.64 492.55,23.91 C494.10,23.17 495.66,22.45 497.22,21.73 C498.77,21.02 500.34,20.31 501.90,19.61 C503.47,18.91 505.04,18.23 506.62,17.55 C508.19,16.87 509.77,16.19 511.35,15.53 C512.93,14.87 514.52,14.22 516.11,13.57 C517.70,12.93 519.29,12.29 520.89,11.66 C522.48,11.04 524.08,10.42 525.68,9.81 C527.29,9.20 529.70,8.30 530.50,8.00" stroke="#000" fill="none" stroke-width="0.9"/>
<path d="M388.7,155.6 L404.3,120.7 Q406.3,116.4 409.5,114.1 C410.14,113.58 412.11,112.10 413.43,111.11 C414.76,110.13 416.09,109.15 417.43,108.17 C418.76,107.20 420.11,106.23 421.46,105.26 C422.81,104.29 424.17,103.33 425.53,102.37 C426.90,101.41 428.27,100.45 429.64,99.50 C431.02,98.55 432.41,97.60 433.79,96.66 C435.18,95.72 436.58,94.78 437.98,93.85 C439.38,92.91 440.79,91.99 442.20,91.07 C443.62,90.15 445.04,89.24 446.46,88.35 C447.89,87.45 449.32,86.56 450.75,85.69 C452.19,84.82 453.63,83.96 455.08,83.11 C456.52,82.27 457.98,81.44 459.43,80.63 C460.89,79.81 462.35,79.02 463.82,78.23 C465.29,77.45 466.76,76.69 468.24,75.93 C469.72,75.18 471.20,74.45 472.69,73.72 C474.17,72.99 475.67,72.28 477.16,71.58 C478.66,70.88 480.16,70.20 481.66,69.52 C483.17,68.84 484.68,68.18 486.19,67.53 C487.71,66.87 489.22,66.23 490.75,65.59 C492.27,64.96 493.79,64.33 495.32,63.71 C496.85,63.09 498.39,62.48 499.93,61.88 C501.46,61.28 503.00,60.69 504.55,60.10 C506.09,59.51 507.64,58.93 509.19,58.35 C510.75,57.77 512.30,57.20 513.86,56.63 C515.42,56.06 516.98,55.50 518.55,54.94 C520.11,54.38 521.68,53.82 523.25,53.27 C524.82,52.72 526.39,52.17 527.97,51.62 C529.55,51.07 531.13,50.53 532.71,49.99 C534.29,49.46 535.88,48.92 537.46,48.39 C539.05,47.86 540.64,47.34 542.23,46.81 C543.82,46.29 545.42,45.77 547.01,45.26 C548.61,44.75 550.21,44.24 551.81,43.73 C553.41,43.23 555.01,42.73 556.61,42.24 C558.22,41.74 559.82,41.25 561.43,40.77 C563.04,40.28 564.65,39.80 566.26,39.32 C567.87,38.85 569.48,38.38 571.09,37.91 C572.71,37.45 574.32,36.99 575.94,36.53 C577.55,36.08 579.17,35.63 580.79,35.19 C582.40,34.74 584.02,34.31 585.64,33.87 C587.26,33.44 588.88,33.01 590.50,32.59 C592.13,32.17 593.75,31.76 595.37,31.35 C596.99,30.94 598.61,30.54 600.24,30.14 C601.86,29.75 603.49,29.36 605.11,28.97 C606.73,28.59 608.36,28.21 609.98,27.84 C611.60,27.47 613.23,27.10 614.85,26.75 C616.48,26.39 618.10,26.04 619.72,25.69 C621.35,25.35 622.97,25.01 624.59,24.68 C626.22,24.35 627.84,24.03 629.46,23.71 C631.08,23.40 632.70,23.09 634.32,22.79 C635.94,22.49 638.37,22.05 639.18,21.91" stroke="#2020ff" fill="none" stroke-width="0.9"/>
<path d="M388.75,209.65 C389.11,209.09 390.19,207.40 390.95,206.29 C391.71,205.18 392.49,204.09 393.30,203.02 C394.11,201.94 394.95,200.88 395.81,199.85 C396.67,198.81 397.55,197.80 398.46,196.80 C399.37,195.81 400.30,194.84 401.26,193.90 C402.21,192.95 403.19,192.04 404.19,191.15 C405.18,190.26 406.20,189.40 407.25,188.57 C408.29,187.74 409.35,186.94 410.43,186.17 C411.52,185.41 412.62,184.68 413.74,183.97 C414.86,183.26 415.99,182.59 417.14,181.93 C418.29,181.27 419.46,180.64 420.63,180.02 C421.81,179.40 422.99,178.81 424.19,178.22 C425.38,177.63 426.59,177.06 427.79,176.49 C429.00,175.92 430.21,175.36 431.43,174.80 C432.64,174.24 433.86,173.68 435.08,173.12 C436.30,172.56 437.52,172.00 438.74,171.44 C439.96,170.88 441.18,170.32 442.40,169.76 C443.62,169.20 444.84,168.65 446.06,168.09 C447.29,167.53 448.51,166.97 449.73,166.42 C450.96,165.86 452.18,165.31 453.41,164.75 C454.64,164.20 455.86,163.65 457.09,163.10 C458.32,162.56 459.55,162.01 460.78,161.47 C462.01,160.93 463.25,160.39 464.48,159.85 C465.71,159.31 466.95,158.78 468.18,158.25 C469.42,157.73 470.66,157.20 471.90,156.68 C473.14,156.17 474.38,155.65 475.62,155.14 C476.86,154.63 478.10,154.13 479.35,153.63 C480.59,153.13 481.84,152.64 483.09,152.15 C484.33,151.67 485.58,151.19 486.84,150.71 C488.09,150.24 489.34,149.78 490.59,149.32 C491.85,148.86 493.11,148.41 494.36,147.96 C495.62,147.52 496.88,147.08 498.15,146.66 C499.41,146.23 500.67,145.81 501.94,145.40 C503.21,144.99 504.47,144.59 505.74,144.20 C507.01,143.80 508.29,143.42 509.56,143.04 C510.83,142.67 512.11,142.30 513.39,141.94 C514.67,141.58 515.95,141.22 517.23,140.87 C518.51,140.53 519.79,140.18 521.07,139.85 C522.36,139.51 523.65,139.18 524.93,138.86 C526.22,138.53 527.51,138.22 528.80,137.90 C530.09,137.59 531.38,137.28 532.68,136.97 C533.97,136.67 535.26,136.37 536.56,136.07 C537.86,135.77 539.15,135.48 540.45,135.18 C541.75,134.89 543.05,134.60 544.35,134.32 C545.65,134.03 546.95,133.75 548.26,133.46 C549.56,133.18 550.86,132.90 552.17,132.62 C553.47,132.34 554.78,132.06 556.08,131.78 C557.39,131.50 558.70,131.23 560.01,130.95 C561.32,130.67 562.62,130.39 563.93,130.11 C565.24,129.83 566.55,129.55 567.87,129.27 C569.18,128.99 570.49,128.71 571.80,128.42 C573.11,128.14 574.43,127.85 575.74,127.56 C577.05,127.27 578.37,126.98 579.68,126.69 C580.99,126.39 582.31,126.10 583.62,125.80 C584.94,125.50 586.25,125.20 587.57,124.90 C588.88,124.61 590.20,124.31 591.51,124.01 C592.83,123.71 594.15,123.41 595.46,123.11 C596.78,122.82 598.09,122.52 599.41,122.23 C600.72,121.94 602.04,121.65 603.36,121.37 C604.67,121.08 605.99,120.80 607.30,120.53 C608.62,120.25 609.93,119.98 611.25,119.71 C612.56,119.45 613.88,119.18 615.19,118.93 C616.50,118.68 617.82,118.43 619.13,118.19 C620.44,117.95 621.76,117.72 623.07,117.50 C624.38,117.28 625.69,117.06 627.01,116.86 C628.32,116.65 629.63,116.46 630.94,116.27 C632.25,116.09 633.56,115.92 634.86,115.75 C636.17,115.59 638.13,115.38 638.79,115.30" stroke="#00ee00" fill="none" stroke-width="0.9"/>
<path d="M388.64,236.55 C389.35,236.08 391.50,234.65 392.93,233.73 C394.37,232.81 395.82,231.90 397.27,231.00 C398.72,230.11 400.17,229.23 401.63,228.36 C403.09,227.50 404.56,226.65 406.03,225.81 C407.50,224.98 408.98,224.15 410.46,223.34 C411.94,222.54 413.43,221.74 414.92,220.96 C416.42,220.18 417.91,219.41 419.42,218.65 C420.92,217.89 422.43,217.15 423.94,216.42 C425.45,215.69 426.97,214.97 428.49,214.26 C430.01,213.56 431.54,212.86 433.07,212.18 C434.60,211.50 436.13,210.82 437.67,210.16 C439.21,209.50 440.76,208.85 442.31,208.21 C443.85,207.57 445.41,206.95 446.96,206.33 C448.52,205.71 450.08,205.10 451.64,204.51 C453.21,203.91 454.78,203.32 456.35,202.74 C457.92,202.16 459.50,201.60 461.07,201.04 C462.65,200.48 464.24,199.93 465.82,199.38 C467.41,198.84 469.00,198.31 470.59,197.78 C472.19,197.26 473.78,196.74 475.38,196.23 C476.98,195.73 478.58,195.22 480.19,194.73 C481.80,194.24 483.41,193.75 485.02,193.27 C486.63,192.79 488.24,192.32 489.86,191.86 C491.48,191.39 493.10,190.93 494.72,190.48 C496.34,190.03 497.97,189.58 499.60,189.14 C501.22,188.70 502.85,188.27 504.49,187.84 C506.12,187.41 507.75,186.98 509.39,186.56 C511.03,186.14 512.66,185.73 514.30,185.32 C515.95,184.91 517.59,184.51 519.23,184.11 C520.88,183.71 522.52,183.31 524.17,182.92 C525.82,182.53 527.47,182.14 529.12,181.76 C530.77,181.38 532.42,181.00 534.08,180.63 C535.73,180.25 537.39,179.88 539.05,179.52 C540.70,179.15 542.36,178.79 544.02,178.44 C545.68,178.08 547.34,177.73 549.00,177.38 C550.66,177.03 552.32,176.69 553.99,176.35 C555.65,176.01 557.31,175.67 558.98,175.34 C560.64,175.01 562.31,174.68 563.97,174.35 C565.64,174.03 567.30,173.71 568.97,173.39 C570.64,173.08 572.30,172.76 573.97,172.46 C575.64,172.15 577.30,171.84 578.97,171.54 C580.64,171.24 582.31,170.94 583.97,170.65 C585.64,170.35 587.31,170.06 588.97,169.78 C590.64,169.49 592.31,169.21 593.97,168.93 C595.64,168.65 597.31,168.37 598.97,168.10 C600.64,167.83 602.30,167.56 603.97,167.29 C605.63,167.02 607.29,166.76 608.96,166.50 C610.62,166.24 612.28,165.99 613.94,165.73 C615.60,165.48 617.26,165.23 618.92,164.98 C620.58,164.74 622.24,164.49 623.89,164.25 C625.55,164.01 627.20,163.78 628.86,163.54 C630.51,163.31 632.16,163.08 633.81,162.85 C635.46,162.62 637.94,162.28 638.76,162.17" stroke="#ff0000" fill="none" stroke-width="0.9"/>
<path d="M387.54,259.86 C388.36,259.72 390.80,259.32 392.43,259.03 C394.06,258.75 395.69,258.45 397.32,258.14 C398.95,257.83 400.58,257.50 402.21,257.17 C403.84,256.83 405.46,256.49 407.09,256.13 C408.72,255.78 410.35,255.41 411.98,255.04 C413.61,254.66 415.23,254.28 416.86,253.89 C418.49,253.50 420.12,253.10 421.75,252.69 C423.37,252.28 425.00,251.87 426.63,251.45 C428.26,251.02 429.88,250.60 431.51,250.16 C433.14,249.73 434.77,249.29 436.40,248.85 C438.02,248.41 439.65,247.96 441.28,247.51 C442.91,247.06 444.54,246.60 446.16,246.14 C447.79,245.69 449.42,245.23 451.05,244.76 C452.68,244.30 454.31,243.84 455.94,243.37 C457.56,242.91 459.19,242.44 460.82,241.98 C462.45,241.51 464.08,241.05 465.71,240.58 C467.34,240.12 468.97,239.65 470.60,239.19 C472.23,238.73 473.86,238.27 475.49,237.81 C477.12,237.36 478.76,236.90 480.39,236.45 C482.02,236.00 483.65,235.55 485.28,235.11 C486.92,234.67 488.55,234.23 490.18,233.80 C491.81,233.37 493.45,232.94 495.08,232.52 C496.72,232.10 498.35,231.68 499.99,231.28 C501.62,230.87 503.26,230.47 504.89,230.08 C506.53,229.69 508.17,229.31 509.80,228.94 C511.44,228.56 513.08,228.20 514.72,227.84 C516.35,227.49 517.99,227.15 519.63,226.81 C521.27,226.47 522.91,226.15 524.55,225.83 C526.19,225.51 527.83,225.20 529.48,224.90 C531.12,224.60 532.76,224.30 534.41,224.01 C536.05,223.72 537.69,223.44 539.34,223.16 C540.98,222.88 542.63,222.61 544.28,222.34 C545.92,222.07 547.57,221.81 549.22,221.55 C550.87,221.29 552.52,221.03 554.16,220.78 C555.81,220.53 557.47,220.27 559.12,220.02 C560.77,219.77 562.42,219.53 564.07,219.28 C565.73,219.03 567.38,218.79 569.04,218.54 C570.69,218.29 572.35,218.05 574.01,217.80 C575.66,217.55 577.32,217.30 578.98,217.05 C580.64,216.80 582.30,216.55 583.96,216.29 C585.62,216.04 587.29,215.78 588.95,215.52 C590.61,215.27 592.28,215.01 593.94,214.75 C595.61,214.50 597.28,214.25 598.95,214.00 C600.61,213.75 602.28,213.50 603.95,213.26 C605.62,213.02 607.30,212.78 608.97,212.56 C610.64,212.33 612.32,212.11 613.99,211.89 C615.67,211.68 617.34,211.48 619.02,211.28 C620.70,211.09 622.38,210.91 624.06,210.74 C625.74,210.57 627.42,210.41 629.10,210.26 C630.79,210.12 632.47,209.98 634.16,209.87 C635.84,209.75 638.38,209.62 639.22,209.57" stroke="#000" fill="none" stroke-width="0.9"/>
<path d="M387.40,187.90 C388.02,186.75 389.67,183.45 391.10,181.00 C392.53,178.55 394.37,175.70 396.00,173.20 C397.63,170.70 399.47,168.00 400.90,166.00 C402.33,164.00 403.38,162.50 404.60,161.20 C405.82,159.90 406.57,159.00 408.20,158.20 C409.83,157.40 412.15,156.80 414.40,156.40 C416.65,156.00 419.10,155.93 421.70,155.80 C424.30,155.67 428.62,155.63 430.00,155.60 L632,155.6 Q637,155.5 640,154.7" fill="none" stroke="#000" stroke-width="2.25" stroke-dasharray="7.2 7.3"/>
<path d="M387.40,228.60 C388.22,228.10 390.67,226.62 392.30,225.60 C393.93,224.58 395.37,223.62 397.20,222.50 C399.03,221.38 401.25,219.95 403.30,218.90 C405.35,217.85 407.45,216.92 409.50,216.20 C411.55,215.48 413.57,214.97 415.60,214.60 C417.63,214.23 418.65,214.17 421.70,214.00 C424.75,213.83 430.02,213.68 433.90,213.60 C437.78,213.52 443.15,213.52 445.00,213.50 L640.5,213.5" fill="none" stroke="#000" stroke-width="2.15" stroke-dasharray="3.7 3.9"/>
<path d="M387.50,259.80 C389.12,259.30 393.53,257.65 397.20,256.80 C400.87,255.95 405.42,255.25 409.50,254.70 C413.58,254.15 417.63,253.80 421.70,253.50 C425.77,253.20 426.68,253.10 433.90,252.90 C441.12,252.70 459.82,252.40 465.00,252.30 L640.5,252.3" fill="none" stroke="#000" stroke-width="2.0" stroke-dasharray="1.6 2.4"/>
<g stroke="#000" stroke-opacity="0.55" stroke-width="0.95" fill="none" stroke-linecap="round" stroke-linejoin="round">
<path transform="translate(355.20,220.02)" d="M1.9,2.1 L5.4,0 L5.4,10.1"/><path transform="translate(364.90,220.02)" d="M3.5,0 C1.3,0 0,1.5 0,3.6 L0,6.5 C0,8.6 1.3,10.1 3.5,10.1 C5.7,10.1 7,8.6 7,6.5 L7,3.6 C7,1.5 5.7,0 3.5,0 Z"/>
<path transform="translate(355.20,176.49)" d="M0.3,2.9 C0.3,1.2 1.6,0 3.5,0 C5.4,0 6.8,1.2 6.8,2.8 C6.8,4.1 5.9,5.1 4.6,6.2 L0,10.1 L7,10.1"/><path transform="translate(364.90,176.49)" d="M3.5,0 C1.3,0 0,1.5 0,3.6 L0,6.5 C0,8.6 1.3,10.1 3.5,10.1 C5.7,10.1 7,8.6 7,6.5 L7,3.6 C7,1.5 5.7,0 3.5,0 Z"/>
<path transform="translate(355.20,132.95)" d="M0.4,2.2 C0.8,0.8 2,0 3.5,0 C5.3,0 6.6,1.1 6.6,2.6 C6.6,4 5.4,4.9 3.3,4.9 C5.6,4.9 7,5.9 7,7.5 C7,9.1 5.6,10.1 3.5,10.1 C1.8,10.1 0.5,9.3 0,7.9"/><path transform="translate(364.90,132.95)" d="M3.5,0 C1.3,0 0,1.5 0,3.6 L0,6.5 C0,8.6 1.3,10.1 3.5,10.1 C5.7,10.1 7,8.6 7,6.5 L7,3.6 C7,1.5 5.7,0 3.5,0 Z"/>
<path transform="translate(355.20,89.42)" d="M5.3,10.1 L5.3,0 L0,7.2 L7.4,7.2"/><path transform="translate(364.90,89.42)" d="M3.5,0 C1.3,0 0,1.5 0,3.6 L0,6.5 C0,8.6 1.3,10.1 3.5,10.1 C5.7,10.1 7,8.6 7,6.5 L7,3.6 C7,1.5 5.7,0 3.5,0 Z"/>
<path transform="translate(355.20,45.88)" d="M6.4,0 L1,0 L0.5,4.5 C1.3,3.8 2.4,3.5 3.5,3.5 C5.6,3.5 7,4.8 7,6.8 C7,8.8 5.6,10.1 3.5,10.1 C1.8,10.1 0.6,9.4 0,8"/><path transform="translate(364.90,45.88)" d="M3.5,0 C1.3,0 0,1.5 0,3.6 L0,6.5 C0,8.6 1.3,10.1 3.5,10.1 C5.7,10.1 7,8.6 7,6.5 L7,3.6 C7,1.5 5.7,0 3.5,0 Z"/>
<path transform="translate(355.20,2.35)" d="M6.4,1.6 C5.9,0.6 4.9,0 3.7,0 C1.4,0 0,2 0,5.4 C0,8.4 1.3,10.1 3.5,10.1 C5.5,10.1 7,8.8 7,6.8 C7,4.9 5.6,3.7 3.6,3.7 C1.6,3.7 0,4.9 0,6.8"/><path transform="translate(364.90,2.35)" d="M3.5,0 C1.3,0 0,1.5 0,3.6 L0,6.5 C0,8.6 1.3,10.1 3.5,10.1 C5.7,10.1 7,8.6 7,6.5 L7,3.6 C7,1.5 5.7,0 3.5,0 Z"/>
<path transform="translate(374.30,267.50)" d="M1.9,2.1 L5.4,0 L5.4,10.1"/><path transform="translate(384.00,267.50)" d="M3.5,0 C1.3,0 0,1.5 0,3.6 L0,6.5 C0,8.6 1.3,10.1 3.5,10.1 C5.7,10.1 7,8.6 7,6.5 L7,3.6 C7,1.5 5.7,0 3.5,0 Z"/><path transform="translate(393.70,267.50)" d="M3.5,0 C1.3,0 0,1.5 0,3.6 L0,6.5 C0,8.6 1.3,10.1 3.5,10.1 C5.7,10.1 7,8.6 7,6.5 L7,3.6 C7,1.5 5.7,0 3.5,0 Z"/>
<path transform="translate(437.55,267.50)" d="M0.3,2.9 C0.3,1.2 1.6,0 3.5,0 C5.4,0 6.8,1.2 6.8,2.8 C6.8,4.1 5.9,5.1 4.6,6.2 L0,10.1 L7,10.1"/><path transform="translate(447.25,267.50)" d="M3.5,0 C1.3,0 0,1.5 0,3.6 L0,6.5 C0,8.6 1.3,10.1 3.5,10.1 C5.7,10.1 7,8.6 7,6.5 L7,3.6 C7,1.5 5.7,0 3.5,0 Z"/><path transform="translate(456.95,267.50)" d="M3.5,0 C1.3,0 0,1.5 0,3.6 L0,6.5 C0,8.6 1.3,10.1 3.5,10.1 C5.7,10.1 7,8.6 7,6.5 L7,3.6 C7,1.5 5.7,0 3.5,0 Z"/>
<path transform="translate(500.80,267.50)" d="M0.4,2.2 C0.8,0.8 2,0 3.5,0 C5.3,0 6.6,1.1 6.6,2.6 C6.6,4 5.4,4.9 3.3,4.9 C5.6,4.9 7,5.9 7,7.5 C7,9.1 5.6,10.1 3.5,10.1 C1.8,10.1 0.5,9.3 0,7.9"/><path transform="translate(510.50,267.50)" d="M3.5,0 C1.3,0 0,1.5 0,3.6 L0,6.5 C0,8.6 1.3,10.1 3.5,10.1 C5.7,10.1 7,8.6 7,6.5 L7,3.6 C7,1.5 5.7,0 3.5,0 Z"/><path transform="translate(520.20,267.50)" d="M3.5,0 C1.3,0 0,1.5 0,3.6 L0,6.5 C0,8.6 1.3,10.1 3.5,10.1 C5.7,10.1 7,8.6 7,6.5 L7,3.6 C7,1.5 5.7,0 3.5,0 Z"/>
<path transform="translate(564.05,267.50)" d="M5.3,10.1 L5.3,0 L0,7.2 L7.4,7.2"/><path transform="translate(573.75,267.50)" d="M3.5,0 C1.3,0 0,1.5 0,3.6 L0,6.5 C0,8.6 1.3,10.1 3.5,10.1 C5.7,10.1 7,8.6 7,6.5 L7,3.6 C7,1.5 5.7,0 3.5,0 Z"/><path transform="translate(583.45,267.50)" d="M3.5,0 C1.3,0 0,1.5 0,3.6 L0,6.5 C0,8.6 1.3,10.1 3.5,10.1 C5.7,10.1 7,8.6 7,6.5 L7,3.6 C7,1.5 5.7,0 3.5,0 Z"/>
<path transform="translate(627.30,267.50)" d="M6.4,0 L1,0 L0.5,4.5 C1.3,3.8 2.4,3.5 3.5,3.5 C5.6,3.5 7,4.8 7,6.8 C7,8.8 5.6,10.1 3.5,10.1 C1.8,10.1 0.6,9.4 0,8"/><path transform="translate(637.00,267.50)" d="M3.5,0 C1.3,0 0,1.5 0,3.6 L0,6.5 C0,8.6 1.3,10.1 3.5,10.1 C5.7,10.1 7,8.6 7,6.5 L7,3.6 C7,1.5 5.7,0 3.5,0 Z"/><path transform="translate(646.70,267.50)" d="M3.5,0 C1.3,0 0,1.5 0,3.6 L0,6.5 C0,8.6 1.3,10.1 3.5,10.1 C5.7,10.1 7,8.6 7,6.5 L7,3.6 C7,1.5 5.7,0 3.5,0 Z"/>
<path transform="translate(337.50,44.40) rotate(-90)" d="M2.3,-10.4 L2.3,-2.2 C2.3,-0.8 3,0 4.4,0 M0,-7.6 L4.5,-7.6 M12.9,-7.6 L12.9,0 M12.9,-5.4 C12.2,-6.8 10.9,-7.7 9.3,-7.7 C7,-7.7 5.5,-6.1 5.5,-3.8 C5.5,-1.5 7,0.1 9.3,0.1 C10.9,0.1 12.2,-0.8 12.9,-2.2 M15.8,-7.6 L15.8,0 M15.8,-5.2 C16.5,-6.8 17.5,-7.7 18.9,-7.7 C20.4,-7.7 21.2,-6.8 21.2,-5.1 L21.2,0 M27.6,3.3 L30.3,-7.6 C30.8,-9.4 32,-10.5 33.6,-10.5 C35.1,-10.5 36,-9.6 36,-8.3 C36,-6.8 34.8,-5.7 32.8,-5.6 C34.6,-5.5 35.6,-4.6 35.6,-3.2 C35.6,-1.3 34.1,0.1 32.2,0.1 C30.7,0.1 29.6,-0.6 29.2,-1.9"/>
<path transform="translate(577.90,299.60)" d="M0,-8 L0,0 M0,-5.6 C0.5,-7.2 1.5,-8.1 2.8,-8.1 C4.3,-8.1 5,-7.2 5,-5.5 L5,0 M5,-5.6 C5.5,-7.2 6.5,-8.1 7.8,-8.1 C9.3,-8.1 10,-7.2 10,-5.5 L10,0 M12.5,2.3 L14.7,-2.9 L16.9,2.3 M13.3,0.6 L16.1,0.6 M26.2,-11 C24.4,-8.8 23.6,-6.4 23.6,-3.8 C23.6,-1.2 24.4,1.4 26.2,3.6 M38.6,-8 C37.9,-9.7 36.4,-10.8 34.4,-10.8 C31.4,-10.8 29.6,-8.6 29.6,-5.4 C29.6,-2.2 31.4,0.1 34.4,0.1 C36.9,0.1 38.7,-1.5 38.7,-4.2 L38.7,-4.6 L34.8,-4.6 M41.6,-4.3 L48.6,-4.3 C48.6,-6.6 47.3,-8.1 45.2,-8.1 C43,-8.1 41.6,-6.4 41.6,-4 C41.6,-1.6 43,0.1 45.3,0.1 C46.8,0.1 47.9,-0.6 48.5,-1.8 M49.8,-10.7 L53.8,0 L57.8,-10.7 M58.6,-11 C60.4,-8.8 61.2,-6.4 61.2,-3.8 C61.2,-1.2 60.4,1.4 58.6,3.6"/>
</g>
<text transform="translate(450.5,34.0) scale(0.885,1)" font-family="Liberation Serif, serif" font-style="italic" font-size="17.6">20</text>
<text transform="translate(450.5,73.0) scale(0.885,1)" font-family="Liberation Serif, serif" font-style="italic" font-size="17.6">18</text>
<text transform="translate(514.0,138.2) scale(0.885,1)" font-family="Liberation Serif, serif" font-style="italic" font-size="17.6">14</text>
<text transform="translate(514.0,181.6) scale(0.885,1)" font-family="Liberation Serif, serif" font-style="italic" font-size="17.6">12</text>
<text transform="translate(481.5,230.0) scale(0.885,1)" font-family="Liberation Serif, serif" font-style="italic" font-size="17.6">10</text>
<text transform="translate(576.6,61.5) scale(0.9,1)" font-family="Liberation Serif, serif" font-weight="bold" font-size="17.5">O</text><text x="588.7" y="66.1" font-family="Liberation Serif, serif" font-weight="bold" font-size="10.0">H</text>
<text transform="translate(576.6,82.5) scale(0.97,1)" font-family="Liberation Serif, serif" font-size="16">μ&lt;0</text>
</g>
<g>
<path d="M61.0,332.5 H315.0" stroke="#000" stroke-opacity="0.5" stroke-width="1" fill="none"/>
<path d="M314.5,332.5 V585.5" stroke="#000" stroke-opacity="0.5" stroke-width="1" fill="none"/>
<path d="M61.5,332.5 V585.5" stroke="#000" stroke-opacity="0.55" stroke-width="1" fill="none"/>
<path d="M61.0,585.0 H315.0" stroke="#000" stroke-opacity="0.6" stroke-width="1" fill="none"/>
<path d="M61.2,524 L61.50,524.01 C61.77,524.63 62.59,526.50 63.14,527.75 C63.68,529.01 64.23,530.28 64.78,531.55 C65.33,532.82 65.89,534.10 66.45,535.38 C67.01,536.66 67.57,537.94 68.15,539.22 C68.72,540.50 69.30,541.78 69.90,543.06 C70.49,544.34 71.09,545.61 71.71,546.88 C72.32,548.15 72.95,549.41 73.59,550.66 C74.23,551.91 74.89,553.16 75.56,554.39 C76.23,555.62 76.92,556.84 77.63,558.05 C78.34,559.25 79.07,560.45 79.82,561.62 C80.57,562.79 81.34,563.95 82.13,565.09 C82.92,566.22 83.74,567.34 84.58,568.43 C85.43,569.53 86.29,570.60 87.19,571.64 C88.09,572.69 89.01,573.71 89.96,574.69 C90.92,575.68 91.90,576.65 92.92,577.58 C93.93,578.50 94.98,579.40 96.06,580.27 C97.15,581.13 98.26,581.96 99.42,582.75 C100.57,583.54 102.40,584.64 102.99,585.02 L61.2,585 Z" fill="#ffff00"/>
<path d="M61.00,576.29 h6.5 M61.00,567.59 h6.5 M61.00,558.88 h6.5 M61.00,550.17 h11.5 M61.00,541.47 h6.5 M61.00,532.76 h6.5 M61.00,524.05 h6.5 M61.00,515.34 h6.5 M61.00,506.64 h11.5 M61.00,497.93 h6.5 M61.00,489.22 h6.5 M61.00,480.52 h6.5 M61.00,471.81 h6.5 M61.00,463.10 h11.5 M61.00,454.40 h6.5 M61.00,445.69 h6.5 M61.00,436.98 h6.5 M61.00,428.28 h6.5 M61.00,419.57 h11.5 M61.00,410.86 h6.5 M61.00,402.16 h6.5 M61.00,393.45 h6.5 M61.00,384.74 h6.5 M61.00,376.03 h11.5 M61.00,367.33 h6.5 M61.00,358.62 h6.5 M61.00,349.91 h6.5 M61.00,341.21 h6.5 M61.00,332.50 h11.5 M77.31,585.50 v-11.5 M93.12,585.50 v-5.5 M108.94,585.50 v-5.5 M124.75,585.50 v-5.5 M140.56,585.50 v-5.5 M156.38,585.50 v-11.5 M172.19,585.50 v-5.5 M188.00,585.50 v-5.5 M203.81,585.50 v-5.5 M219.62,585.50 v-5.5 M235.44,585.50 v-11.5 M251.25,585.50 v-5.5 M267.06,585.50 v-5.5 M282.88,585.50 v-5.5 M298.69,585.50 v-5.5 M314.50,585.50 v-11.5" stroke="#000" stroke-opacity="0.6" stroke-width="1" fill="none"/>
<path d="M64.28,332.99 C64.37,333.84 64.65,336.43 64.83,338.14 C65.01,339.85 65.18,341.57 65.35,343.27 C65.53,344.98 65.69,346.69 65.86,348.39 C66.03,350.09 66.19,351.79 66.35,353.48 C66.51,355.18 66.67,356.87 66.82,358.56 C66.98,360.25 67.13,361.94 67.28,363.63 C67.43,365.31 67.58,367.00 67.73,368.68 C67.87,370.36 68.02,372.04 68.16,373.72 C68.31,375.40 68.45,377.07 68.60,378.75 C68.74,380.42 68.88,382.10 69.02,383.77 C69.16,385.44 69.30,387.11 69.44,388.78 C69.59,390.45 69.73,392.12 69.87,393.79 C70.01,395.45 70.15,397.12 70.29,398.79 C70.43,400.45 70.58,402.12 70.72,403.79 C70.86,405.45 71.01,407.12 71.15,408.78 C71.30,410.45 71.45,412.11 71.60,413.78 C71.75,415.44 71.90,417.11 72.05,418.78 C72.20,420.44 72.36,422.11 72.51,423.78 C72.67,425.44 72.83,427.11 72.99,428.78 C73.16,430.45 73.32,432.12 73.49,433.79 C73.66,435.46 73.83,437.13 74.01,438.81 C74.18,440.48 74.36,442.16 74.55,443.83 C74.73,445.51 74.92,447.19 75.11,448.87 C75.30,450.55 75.49,452.23 75.69,453.92 C75.89,455.60 76.10,457.29 76.31,458.98 C76.52,460.67 76.73,462.36 76.95,464.06 C77.17,465.75 77.40,467.45 77.63,469.15 C77.86,470.85 78.10,472.55 78.34,474.26 C78.58,475.96 78.83,477.67 79.09,479.38 C79.34,481.10 79.61,482.81 79.87,484.53 C80.14,486.25 80.42,487.98 80.70,489.70 C80.98,491.43 81.28,493.16 81.56,494.89 C81.85,496.62 82.14,498.36 82.41,500.09 C82.69,501.82 82.97,503.55 83.22,505.27 C83.48,507.00 83.73,508.72 83.95,510.43 C84.18,512.15 84.38,513.86 84.56,515.56 C84.74,517.26 84.90,518.95 85.01,520.63 C85.13,522.31 85.23,523.98 85.27,525.64 C85.32,527.29 85.33,528.94 85.30,530.56 C85.26,532.19 85.19,533.80 85.05,535.39 C84.92,536.99 84.74,538.56 84.50,540.12 C84.25,541.67 83.96,543.20 83.59,544.71 C83.22,546.22 82.79,547.71 82.27,549.16 C81.75,550.62 81.17,552.05 80.48,553.44 C79.78,554.83 79.01,556.19 78.13,557.51 C77.24,558.83 76.26,560.12 75.16,561.36 C74.06,562.60 72.86,563.80 71.52,564.95 C70.19,566.10 68.74,567.21 67.15,568.26 C65.56,569.32 62.85,570.77 61.98,571.27" stroke="#000" fill="none" stroke-width="0.9"/>
<path d="M84.49,333.00 C84.65,333.83 85.13,336.35 85.43,338.02 C85.74,339.70 86.04,341.37 86.33,343.04 C86.62,344.71 86.90,346.39 87.18,348.06 C87.46,349.73 87.73,351.40 88.00,353.07 C88.27,354.73 88.53,356.40 88.79,358.07 C89.05,359.74 89.31,361.40 89.57,363.07 C89.82,364.73 90.07,366.40 90.32,368.06 C90.57,369.73 90.82,371.39 91.07,373.05 C91.32,374.71 91.56,376.37 91.81,378.03 C92.06,379.69 92.31,381.35 92.56,383.01 C92.81,384.67 93.06,386.33 93.32,387.98 C93.57,389.64 93.83,391.30 94.09,392.95 C94.35,394.61 94.62,396.26 94.89,397.92 C95.15,399.57 95.43,401.22 95.71,402.87 C95.99,404.53 96.27,406.18 96.56,407.83 C96.85,409.48 97.15,411.13 97.46,412.78 C97.76,414.43 98.08,416.07 98.40,417.72 C98.72,419.37 99.05,421.02 99.39,422.66 C99.73,424.31 100.08,425.95 100.45,427.60 C100.81,429.24 101.18,430.88 101.55,432.53 C101.93,434.17 102.32,435.81 102.72,437.45 C103.12,439.09 103.52,440.73 103.93,442.37 C104.35,444.01 104.77,445.65 105.20,447.29 C105.62,448.93 106.06,450.57 106.50,452.20 C106.94,453.84 107.39,455.47 107.85,457.11 C108.30,458.75 108.76,460.38 109.23,462.01 C109.69,463.65 110.17,465.28 110.64,466.91 C111.12,468.55 111.60,470.18 112.08,471.81 C112.57,473.44 113.06,475.07 113.55,476.70 C114.04,478.33 114.54,479.96 115.04,481.59 C115.54,483.22 116.04,484.84 116.54,486.47 C117.05,488.10 117.56,489.72 118.06,491.35 C118.57,492.97 119.08,494.60 119.59,496.22 C120.11,497.85 120.62,499.47 121.13,501.10 C121.64,502.72 122.16,504.34 122.67,505.96 C123.18,507.58 123.70,509.21 124.21,510.83 C124.72,512.45 125.24,514.07 125.74,515.69 C126.24,517.30 126.78,518.93 127.22,520.54 C127.66,522.14 128.10,523.75 128.38,525.33 C128.66,526.92 128.88,528.49 128.90,530.03 C128.92,531.57 128.78,533.10 128.49,534.58 C128.19,536.06 127.72,537.52 127.12,538.93 C126.53,540.33 125.78,541.71 124.92,543.02 C124.07,544.34 123.07,545.61 121.99,546.82 C120.92,548.03 119.72,549.19 118.45,550.27 C117.19,551.36 115.83,552.38 114.41,553.35 C113.00,554.33 111.50,555.23 109.97,556.10 C108.43,556.97 106.83,557.78 105.21,558.55 C103.59,559.33 101.92,560.06 100.25,560.76 C98.58,561.46 96.87,562.12 95.18,562.76 C93.49,563.40 91.78,564.01 90.10,564.61 C88.41,565.20 86.73,565.77 85.09,566.33 C83.46,566.90 81.85,567.44 80.26,567.99 C78.68,568.54 77.13,569.07 75.60,569.62 C74.06,570.16 72.55,570.70 71.04,571.26 C69.53,571.82 68.03,572.38 66.53,572.96 C65.03,573.55 62.77,574.47 62.02,574.77" stroke="#ff0000" fill="none" stroke-width="0.9"/>
<path d="M109.31,333.01 C109.44,333.48 109.85,334.91 110.12,335.86 C110.39,336.81 110.66,337.77 110.93,338.72 C111.20,339.68 111.47,340.64 111.74,341.59 C112.01,342.55 112.28,343.51 112.55,344.47 C112.82,345.43 113.09,346.40 113.36,347.36 C113.64,348.32 113.91,349.28 114.18,350.25 C114.45,351.21 114.73,352.18 115.00,353.15 C115.28,354.11 115.55,355.08 115.83,356.05 C116.10,357.01 116.38,357.98 116.66,358.95 C116.94,359.92 117.22,360.89 117.50,361.86 C117.78,362.83 118.06,363.80 118.35,364.77 C118.63,365.74 118.92,366.70 119.20,367.67 C119.49,368.64 119.78,369.61 120.07,370.58 C120.36,371.55 120.66,372.52 120.95,373.49 C121.25,374.46 121.54,375.43 121.84,376.40 C122.14,377.36 122.44,378.33 122.75,379.30 C123.05,380.26 123.36,381.23 123.67,382.20 C123.98,383.16 124.29,384.13 124.61,385.09 C124.92,386.05 125.24,387.01 125.56,387.98 C125.88,388.94 126.20,389.90 126.53,390.86 C126.86,391.82 127.19,392.77 127.52,393.73 C127.86,394.69 128.19,395.64 128.53,396.60 C128.87,397.55 129.22,398.50 129.56,399.45 C129.91,400.40 130.26,401.35 130.62,402.30 C130.97,403.24 131.33,404.19 131.70,405.13 C132.06,406.07 132.43,407.01 132.80,407.95 C133.17,408.89 133.55,409.83 133.93,410.76 C134.31,411.70 134.69,412.63 135.08,413.56 C135.47,414.49 135.86,415.41 136.26,416.34 C136.66,417.26 137.07,418.18 137.47,419.10 C137.88,420.02 138.30,420.94 138.72,421.85 C139.13,422.76 139.56,423.67 139.99,424.58 C140.42,425.49 140.85,426.39 141.29,427.29 C141.73,428.19 142.18,429.09 142.63,429.99 C143.08,430.88 143.54,431.77 144.00,432.66 C144.46,433.55 144.93,434.43 145.40,435.31 C145.88,436.19 146.36,437.07 146.85,437.94 C147.33,438.81 147.83,439.68 148.33,440.55 C148.83,441.41 149.33,442.27 149.84,443.13 C150.36,443.99 150.88,444.84 151.40,445.69 C151.93,446.54 152.46,447.38 153.00,448.22 C153.54,449.06 154.09,449.89 154.64,450.73 C155.19,451.56 155.76,452.38 156.32,453.20 C156.89,454.03 157.47,454.84 158.05,455.65 C158.63,456.47 159.22,457.27 159.82,458.07 C160.42,458.88 161.02,459.67 161.64,460.47 C162.25,461.26 162.87,462.04 163.50,462.82 C164.13,463.61 164.77,464.38 165.41,465.15 C166.06,465.92 166.71,466.69 167.38,467.45 C168.04,468.21 168.71,468.96 169.39,469.71 C170.06,470.46 170.75,471.20 171.45,471.93 C172.14,472.67 172.84,473.40 173.55,474.12 C174.26,474.85 174.98,475.56 175.70,476.28 C176.42,476.99 177.15,477.69 177.89,478.39 C178.63,479.09 179.37,479.78 180.12,480.46 C180.87,481.15 181.63,481.83 182.39,482.50 C183.16,483.17 183.93,483.83 184.70,484.49 C185.48,485.15 186.26,485.80 187.05,486.44 C187.83,487.08 188.63,487.72 189.42,488.35 C190.22,488.98 191.03,489.60 191.83,490.21 C192.64,490.82 193.46,491.43 194.27,492.02 C195.09,492.62 195.91,493.21 196.74,493.79 C197.57,494.37 198.40,494.95 199.24,495.51 C200.07,496.08 200.91,496.63 201.76,497.18 C202.60,497.73 203.45,498.27 204.30,498.80 C205.15,499.33 206.01,499.86 206.87,500.37 C207.72,500.88 208.59,501.39 209.45,501.88 C210.31,502.38 211.18,502.87 212.05,503.35 C212.92,503.82 213.80,504.29 214.67,504.75 C215.55,505.21 216.42,505.66 217.30,506.10 C218.18,506.54 219.07,506.97 219.95,507.40 C220.83,507.82 221.72,508.23 222.61,508.63 C223.49,509.04 224.38,509.43 225.28,509.82 C226.17,510.21 227.07,510.60 227.97,510.99 C228.87,511.38 229.78,511.76 230.69,512.15 C231.60,512.55 232.52,512.94 233.44,513.34 C234.37,513.74 235.30,514.15 236.24,514.57 C237.18,514.99 238.12,515.41 239.08,515.86 C240.03,516.30 241.00,516.76 241.97,517.24 C242.95,517.71 243.94,518.20 244.93,518.72 C245.92,519.24 246.94,519.77 247.90,520.33 C248.85,520.90 249.82,521.48 250.69,522.10 C251.55,522.72 252.39,523.37 253.10,524.05 C253.81,524.74 254.46,525.46 254.95,526.21 C255.44,526.96 255.82,527.77 256.04,528.54 C256.25,529.32 256.33,530.12 256.24,530.85 C256.15,531.58 255.88,532.29 255.48,532.91 C255.08,533.53 254.51,534.08 253.85,534.58 C253.20,535.08 252.39,535.51 251.55,535.91 C250.70,536.31 249.75,536.66 248.78,536.98 C247.82,537.30 246.78,537.58 245.76,537.85 C244.73,538.12 243.67,538.35 242.62,538.58 C241.57,538.82 240.51,539.04 239.45,539.26 C238.40,539.48 237.36,539.70 236.31,539.91 C235.27,540.13 234.24,540.34 233.20,540.55 C232.17,540.77 231.14,540.98 230.12,541.18 C229.10,541.39 228.08,541.60 227.06,541.80 C226.04,542.00 225.03,542.21 224.02,542.41 C223.02,542.61 222.01,542.80 221.01,543.00 C220.01,543.20 219.01,543.39 218.01,543.59 C217.02,543.78 216.02,543.97 215.03,544.16 C214.04,544.36 213.05,544.54 212.07,544.73 C211.08,544.92 210.10,545.11 209.11,545.29 C208.13,545.48 207.15,545.66 206.17,545.85 C205.19,546.03 204.21,546.21 203.24,546.39 C202.26,546.58 201.28,546.76 200.31,546.94 C199.33,547.12 198.36,547.29 197.39,547.47 C196.41,547.65 195.44,547.83 194.47,548.00 C193.49,548.18 192.52,548.36 191.55,548.53 C190.57,548.71 189.60,548.88 188.62,549.06 C187.65,549.23 186.67,549.41 185.70,549.58 C184.72,549.76 183.74,549.93 182.77,550.10 C181.79,550.28 180.81,550.45 179.83,550.62 C178.85,550.80 177.87,550.97 176.88,551.14 C175.90,551.32 174.92,551.49 173.94,551.67 C172.95,551.84 171.97,552.01 170.98,552.19 C170.00,552.36 169.01,552.53 168.02,552.71 C167.04,552.88 166.05,553.06 165.06,553.23 C164.07,553.41 163.08,553.58 162.09,553.76 C161.10,553.93 160.11,554.11 159.12,554.29 C158.13,554.46 157.14,554.64 156.15,554.82 C155.16,555.00 154.17,555.17 153.17,555.35 C152.18,555.53 151.19,555.71 150.20,555.89 C149.20,556.07 148.21,556.26 147.22,556.44 C146.22,556.62 145.23,556.80 144.24,556.99 C143.24,557.17 142.25,557.36 141.25,557.54 C140.26,557.73 139.27,557.92 138.27,558.10 C137.28,558.29 136.28,558.48 135.29,558.67 C134.30,558.86 133.30,559.06 132.31,559.25 C131.32,559.44 130.32,559.64 129.33,559.83 C128.34,560.03 127.34,560.23 126.35,560.43 C125.36,560.63 124.36,560.83 123.37,561.03 C122.38,561.23 121.39,561.43 120.40,561.64 C119.41,561.84 118.41,562.05 117.42,562.26 C116.43,562.47 115.44,562.68 114.45,562.89 C113.47,563.10 112.48,563.32 111.49,563.54 C110.50,563.75 109.51,563.97 108.53,564.19 C107.54,564.41 106.55,564.63 105.57,564.86 C104.58,565.08 103.60,565.31 102.61,565.54 C101.63,565.76 100.65,565.99 99.67,566.23 C98.68,566.46 97.70,566.70 96.72,566.93 C95.74,567.17 94.76,567.41 93.79,567.65 C92.81,567.90 91.83,568.14 90.86,568.39 C89.88,568.64 88.91,568.89 87.93,569.14 C86.96,569.39 85.99,569.65 85.02,569.90 C84.05,570.16 83.08,570.42 82.11,570.69 C81.14,570.95 80.17,571.22 79.21,571.49 C78.24,571.76 77.28,572.03 76.32,572.30 C75.35,572.58 74.39,572.86 73.43,573.14 C72.47,573.42 71.52,573.70 70.56,573.99 C69.60,574.28 68.65,574.57 67.70,574.86 C66.74,575.16 65.79,575.45 64.84,575.75 C63.89,576.05 62.48,576.51 62.00,576.66" stroke="#00ee00" fill="none" stroke-width="0.9"/>
<path d="M120.24,332.94 C120.45,333.76 121.05,336.22 121.47,337.86 C121.89,339.50 122.33,341.13 122.77,342.76 C123.22,344.39 123.68,346.02 124.15,347.65 C124.62,349.27 125.11,350.89 125.61,352.51 C126.11,354.13 126.62,355.74 127.15,357.35 C127.67,358.96 128.21,360.56 128.76,362.16 C129.32,363.76 129.88,365.35 130.46,366.94 C131.05,368.52 131.64,370.10 132.25,371.68 C132.86,373.25 133.48,374.82 134.12,376.38 C134.76,377.94 135.41,379.49 136.07,381.04 C136.74,382.58 137.42,384.12 138.12,385.65 C138.81,387.17 139.52,388.69 140.25,390.20 C140.98,391.71 141.72,393.21 142.48,394.70 C143.23,396.19 144.00,397.68 144.79,399.15 C145.58,400.62 146.38,402.08 147.20,403.52 C148.02,404.97 148.86,406.41 149.71,407.84 C150.56,409.26 151.43,410.68 152.31,412.08 C153.20,413.48 154.10,414.87 155.01,416.24 C155.93,417.62 156.86,418.98 157.82,420.33 C158.77,421.68 159.73,423.01 160.72,424.33 C161.70,425.65 162.70,426.96 163.72,428.25 C164.74,429.54 165.78,430.82 166.83,432.08 C167.88,433.34 168.95,434.59 170.04,435.81 C171.13,437.04 172.24,438.26 173.36,439.45 C174.49,440.65 175.63,441.82 176.79,442.99 C177.95,444.15 179.13,445.29 180.33,446.41 C181.53,447.54 182.75,448.65 183.98,449.73 C185.22,450.82 186.47,451.89 187.74,452.94 C189.02,453.99 190.31,455.02 191.62,456.03 C192.93,457.04 194.26,458.03 195.61,459.00 C196.96,459.97 198.32,460.92 199.70,461.85 C201.08,462.78 202.48,463.70 203.90,464.59 C205.31,465.48 206.74,466.36 208.19,467.21 C209.63,468.07 211.09,468.90 212.56,469.72 C214.03,470.54 215.52,471.34 217.02,472.12 C218.52,472.90 220.03,473.66 221.55,474.40 C223.08,475.15 224.61,475.87 226.16,476.58 C227.70,477.29 229.26,477.97 230.82,478.65 C232.38,479.32 233.96,479.97 235.54,480.61 C237.12,481.24 238.72,481.86 240.31,482.46 C241.91,483.07 243.52,483.65 245.13,484.22 C246.74,484.78 248.36,485.33 249.99,485.87 C251.61,486.40 253.24,486.91 254.87,487.41 C256.51,487.91 258.14,488.40 259.78,488.86 C261.43,489.33 263.07,489.78 264.72,490.21 C266.36,490.65 268.01,491.06 269.66,491.46 C271.31,491.87 272.96,492.25 274.62,492.62 C276.27,492.99 277.92,493.34 279.57,493.68 C281.22,494.02 282.87,494.34 284.52,494.65 C286.16,494.96 287.81,495.25 289.45,495.53 C291.10,495.81 292.74,496.07 294.37,496.32 C296.01,496.56 297.64,496.80 299.27,497.01 C300.90,497.23 302.52,497.43 304.14,497.62 C305.75,497.81 307.36,497.99 308.97,498.15 C310.57,498.31 312.95,498.51 313.75,498.58" stroke="#2020ff" fill="none" stroke-width="0.9"/>
<path d="M61.98,577.44 C62.79,577.20 65.23,576.45 66.85,575.97 C68.48,575.49 70.11,575.02 71.74,574.55 C73.37,574.09 75.00,573.63 76.64,573.19 C78.27,572.74 79.91,572.30 81.54,571.87 C83.18,571.44 84.82,571.02 86.46,570.61 C88.10,570.20 89.74,569.79 91.39,569.39 C93.03,569.00 94.68,568.61 96.32,568.22 C97.97,567.84 99.62,567.47 101.27,567.10 C102.92,566.74 104.57,566.38 106.22,566.03 C107.87,565.67 109.53,565.33 111.18,564.99 C112.84,564.66 114.50,564.33 116.16,564.00 C117.81,563.68 119.47,563.37 121.13,563.06 C122.80,562.75 124.46,562.44 126.12,562.15 C127.78,561.85 129.45,561.56 131.11,561.28 C132.78,561.00 134.45,560.72 136.12,560.45 C137.78,560.18 139.45,559.92 141.12,559.66 C142.79,559.40 144.47,559.15 146.14,558.90 C147.81,558.65 149.48,558.41 151.16,558.18 C152.83,557.94 154.51,557.71 156.18,557.49 C157.86,557.26 159.54,557.04 161.22,556.83 C162.89,556.61 164.57,556.41 166.25,556.20 C167.93,556.00 169.61,555.80 171.29,555.61 C172.98,555.41 174.66,555.22 176.34,555.04 C178.02,554.85 179.71,554.67 181.39,554.50 C183.07,554.32 184.76,554.15 186.44,553.98 C188.13,553.81 189.82,553.65 191.50,553.49 C193.19,553.33 194.88,553.18 196.56,553.02 C198.25,552.87 199.94,552.72 201.63,552.58 C203.32,552.43 205.01,552.29 206.70,552.16 C208.39,552.02 210.08,551.89 211.77,551.75 C213.46,551.62 215.15,551.50 216.84,551.37 C218.53,551.25 220.22,551.12 221.91,551.00 C223.60,550.89 225.29,550.77 226.99,550.66 C228.68,550.54 230.37,550.43 232.06,550.32 C233.75,550.21 235.45,550.11 237.14,550.00 C238.83,549.90 240.52,549.80 242.22,549.69 C243.91,549.59 245.60,549.50 247.29,549.40 C248.99,549.30 250.68,549.21 252.37,549.12 C254.06,549.02 255.76,548.93 257.45,548.84 C259.14,548.75 260.83,548.66 262.53,548.57 C264.22,548.48 265.91,548.40 267.60,548.31 C269.29,548.23 270.99,548.14 272.68,548.06 C274.37,547.97 276.06,547.89 277.75,547.81 C279.44,547.73 281.13,547.64 282.82,547.56 C284.51,547.48 286.20,547.40 287.89,547.32 C289.58,547.24 291.27,547.16 292.96,547.08 C294.64,546.99 296.33,546.91 298.02,546.83 C299.71,546.75 301.39,546.67 303.08,546.59 C304.77,546.50 306.45,546.42 308.14,546.34 C309.82,546.26 312.35,546.13 313.19,546.09" stroke="#2020ff" fill="none" stroke-width="0.9"/>
<path d="M61.52,415.85 C61.70,416.73 62.17,419.37 62.59,421.08 C63.00,422.80 63.48,424.50 64.01,426.16 C64.55,427.83 65.14,429.47 65.78,431.08 C66.43,432.69 67.13,434.27 67.88,435.81 C68.63,437.36 69.43,438.87 70.29,440.35 C71.14,441.83 72.04,443.27 72.99,444.68 C73.93,446.08 74.93,447.45 75.97,448.78 C77.01,450.10 78.09,451.39 79.21,452.64 C80.34,453.88 81.50,455.08 82.71,456.24 C83.91,457.39 85.15,458.50 86.43,459.56 C87.71,460.63 89.03,461.64 90.37,462.60 C91.72,463.57 93.10,464.48 94.51,465.34 C95.93,466.20 97.37,467.00 98.84,467.75 C100.31,468.50 101.81,469.19 103.34,469.83 C104.86,470.48 106.42,471.06 107.99,471.59 C109.56,472.13 111.16,472.62 112.78,473.06 C114.39,473.50 116.03,473.90 117.68,474.26 C119.34,474.62 121.01,474.93 122.70,475.22 C124.39,475.50 126.09,475.74 127.81,475.96 C129.52,476.18 131.25,476.36 132.99,476.52 C134.72,476.69 136.47,476.82 138.23,476.93 C139.98,477.04 141.74,477.13 143.51,477.21 C145.27,477.28 147.05,477.33 148.82,477.38 C150.59,477.42 152.37,477.45 154.14,477.47 C155.91,477.48 157.69,477.49 159.46,477.49 C161.23,477.50 163.00,477.49 164.76,477.48 C166.52,477.48 168.27,477.46 170.02,477.46 C171.77,477.45 173.50,477.44 175.23,477.44 C176.96,477.43 178.67,477.43 180.38,477.44 C182.08,477.46 183.77,477.47 185.44,477.50 C187.11,477.54 188.76,477.58 190.40,477.64 C192.04,477.70 193.65,477.77 195.25,477.87 C196.84,477.96 199.18,478.16 199.97,478.21 L314,478.2" fill="none" stroke="#000" stroke-width="2.25" stroke-dasharray="7.2 7.3"/>
<path d="M61.85,480.34 C62.03,481.21 62.53,483.87 62.96,485.58 C63.39,487.30 63.89,488.97 64.45,490.61 C65.01,492.24 65.62,493.84 66.30,495.40 C66.97,496.95 67.70,498.47 68.49,499.95 C69.27,501.42 70.12,502.86 71.01,504.25 C71.90,505.64 72.84,506.99 73.83,508.29 C74.82,509.59 75.87,510.85 76.95,512.06 C78.04,513.27 79.18,514.44 80.35,515.56 C81.53,516.68 82.75,517.75 84.01,518.77 C85.27,519.79 86.57,520.77 87.90,521.70 C89.23,522.63 90.60,523.52 92.00,524.36 C93.40,525.20 94.84,526.00 96.29,526.75 C97.75,527.50 99.23,528.21 100.74,528.88 C102.24,529.54 103.78,530.16 105.32,530.74 C106.87,531.33 108.44,531.86 110.02,532.36 C111.59,532.86 113.19,533.32 114.80,533.74 C116.41,534.16 118.03,534.54 119.66,534.89 C121.29,535.24 122.94,535.56 124.59,535.84 C126.24,536.13 127.91,536.38 129.58,536.61 C131.25,536.84 132.93,537.04 134.62,537.22 C136.30,537.39 138.00,537.54 139.70,537.68 C141.39,537.81 143.10,537.92 144.80,538.02 C146.51,538.11 148.22,538.19 149.93,538.25 C151.63,538.31 153.35,538.36 155.06,538.40 C156.77,538.44 158.48,538.46 160.19,538.49 C161.90,538.51 163.61,538.52 165.31,538.53 C167.01,538.54 168.71,538.54 170.41,538.54 C172.10,538.55 173.79,538.55 175.47,538.55 C177.16,538.56 178.83,538.56 180.50,538.58 C182.17,538.59 183.82,538.61 185.47,538.63 C187.12,538.66 188.76,538.70 190.38,538.75 C192.01,538.79 193.62,538.85 195.22,538.93 C196.82,539.01 199.19,539.16 199.98,539.21 L314,539.2" fill="none" stroke="#000" stroke-width="2.15" stroke-dasharray="3.7 3.9"/>
<path d="M61.50,524.01 C61.77,524.63 62.59,526.50 63.14,527.75 C63.68,529.01 64.23,530.28 64.78,531.55 C65.33,532.82 65.89,534.10 66.45,535.38 C67.01,536.66 67.57,537.94 68.15,539.22 C68.72,540.50 69.30,541.78 69.90,543.06 C70.49,544.34 71.09,545.61 71.71,546.88 C72.32,548.15 72.95,549.41 73.59,550.66 C74.23,551.91 74.89,553.16 75.56,554.39 C76.23,555.62 76.92,556.84 77.63,558.05 C78.34,559.25 79.07,560.45 79.82,561.62 C80.57,562.79 81.34,563.95 82.13,565.09 C82.92,566.22 83.74,567.34 84.58,568.43 C85.43,569.53 86.29,570.60 87.19,571.64 C88.09,572.69 89.01,573.71 89.96,574.69 C90.92,575.68 91.90,576.65 92.92,577.58 C93.93,578.50 94.98,579.40 96.06,580.27 C97.15,581.13 98.26,581.96 99.42,582.75 C100.57,583.54 102.40,584.64 102.99,585.02" fill="none" stroke="#000" stroke-width="2.0" stroke-dasharray="1.6 2.4"/>
<g stroke="#000" stroke-opacity="0.55" stroke-width="0.95" fill="none" stroke-linecap="round" stroke-linejoin="round">
<path transform="translate(29.20,545.02)" d="M1.9,2.1 L5.4,0 L5.4,10.1"/><path transform="translate(38.90,545.02)" d="M3.5,0 C1.3,0 0,1.5 0,3.6 L0,6.5 C0,8.6 1.3,10.1 3.5,10.1 C5.7,10.1 7,8.6 7,6.5 L7,3.6 C7,1.5 5.7,0 3.5,0 Z"/>
<path transform="translate(29.20,501.49)" d="M0.3,2.9 C0.3,1.2 1.6,0 3.5,0 C5.4,0 6.8,1.2 6.8,2.8 C6.8,4.1 5.9,5.1 4.6,6.2 L0,10.1 L7,10.1"/><path transform="translate(38.90,501.49)" d="M3.5,0 C1.3,0 0,1.5 0,3.6 L0,6.5 C0,8.6 1.3,10.1 3.5,10.1 C5.7,10.1 7,8.6 7,6.5 L7,3.6 C7,1.5 5.7,0 3.5,0 Z"/>
<path transform="translate(29.20,457.95)" d="M0.4,2.2 C0.8,0.8 2,0 3.5,0 C5.3,0 6.6,1.1 6.6,2.6 C6.6,4 5.4,4.9 3.3,4.9 C5.6,4.9 7,5.9 7,7.5 C7,9.1 5.6,10.1 3.5,10.1 C1.8,10.1 0.5,9.3 0,7.9"/><path transform="translate(38.90,457.95)" d="M3.5,0 C1.3,0 0,1.5 0,3.6 L0,6.5 C0,8.6 1.3,10.1 3.5,10.1 C5.7,10.1 7,8.6 7,6.5 L7,3.6 C7,1.5 5.7,0 3.5,0 Z"/>
<path transform="translate(29.20,414.42)" d="M5.3,10.1 L5.3,0 L0,7.2 L7.4,7.2"/><path transform="translate(38.90,414.42)" d="M3.5,0 C1.3,0 0,1.5 0,3.6 L0,6.5 C0,8.6 1.3,10.1 3.5,10.1 C5.7,10.1 7,8.6 7,6.5 L7,3.6 C7,1.5 5.7,0 3.5,0 Z"/>
<path transform="translate(29.20,370.88)" d="M6.4,0 L1,0 L0.5,4.5 C1.3,3.8 2.4,3.5 3.5,3.5 C5.6,3.5 7,4.8 7,6.8 C7,8.8 5.6,10.1 3.5,10.1 C1.8,10.1 0.6,9.4 0,8"/><path transform="translate(38.90,370.88)" d="M3.5,0 C1.3,0 0,1.5 0,3.6 L0,6.5 C0,8.6 1.3,10.1 3.5,10.1 C5.7,10.1 7,8.6 7,6.5 L7,3.6 C7,1.5 5.7,0 3.5,0 Z"/>
<path transform="translate(29.20,327.35)" d="M6.4,1.6 C5.9,0.6 4.9,0 3.7,0 C1.4,0 0,2 0,5.4 C0,8.4 1.3,10.1 3.5,10.1 C5.5,10.1 7,8.8 7,6.8 C7,4.9 5.6,3.7 3.6,3.7 C1.6,3.7 0,4.9 0,6.8"/><path transform="translate(38.90,327.35)" d="M3.5,0 C1.3,0 0,1.5 0,3.6 L0,6.5 C0,8.6 1.3,10.1 3.5,10.1 C5.7,10.1 7,8.6 7,6.5 L7,3.6 C7,1.5 5.7,0 3.5,0 Z"/>
<path transform="translate(64.11,592.50)" d="M0.3,2.9 C0.3,1.2 1.6,0 3.5,0 C5.4,0 6.8,1.2 6.8,2.8 C6.8,4.1 5.9,5.1 4.6,6.2 L0,10.1 L7,10.1"/><path transform="translate(73.81,592.50)" d="M3.5,0 C1.3,0 0,1.5 0,3.6 L0,6.5 C0,8.6 1.3,10.1 3.5,10.1 C5.7,10.1 7,8.6 7,6.5 L7,3.6 C7,1.5 5.7,0 3.5,0 Z"/><path transform="translate(83.51,592.50)" d="M3.5,0 C1.3,0 0,1.5 0,3.6 L0,6.5 C0,8.6 1.3,10.1 3.5,10.1 C5.7,10.1 7,8.6 7,6.5 L7,3.6 C7,1.5 5.7,0 3.5,0 Z"/>
<path transform="translate(143.18,592.50)" d="M0.4,2.2 C0.8,0.8 2,0 3.5,0 C5.3,0 6.6,1.1 6.6,2.6 C6.6,4 5.4,4.9 3.3,4.9 C5.6,4.9 7,5.9 7,7.5 C7,9.1 5.6,10.1 3.5,10.1 C1.8,10.1 0.5,9.3 0,7.9"/><path transform="translate(152.88,592.50)" d="M3.5,0 C1.3,0 0,1.5 0,3.6 L0,6.5 C0,8.6 1.3,10.1 3.5,10.1 C5.7,10.1 7,8.6 7,6.5 L7,3.6 C7,1.5 5.7,0 3.5,0 Z"/><path transform="translate(162.58,592.50)" d="M3.5,0 C1.3,0 0,1.5 0,3.6 L0,6.5 C0,8.6 1.3,10.1 3.5,10.1 C5.7,10.1 7,8.6 7,6.5 L7,3.6 C7,1.5 5.7,0 3.5,0 Z"/>
<path transform="translate(222.24,592.50)" d="M5.3,10.1 L5.3,0 L0,7.2 L7.4,7.2"/><path transform="translate(231.94,592.50)" d="M3.5,0 C1.3,0 0,1.5 0,3.6 L0,6.5 C0,8.6 1.3,10.1 3.5,10.1 C5.7,10.1 7,8.6 7,6.5 L7,3.6 C7,1.5 5.7,0 3.5,0 Z"/><path transform="translate(241.64,592.50)" d="M3.5,0 C1.3,0 0,1.5 0,3.6 L0,6.5 C0,8.6 1.3,10.1 3.5,10.1 C5.7,10.1 7,8.6 7,6.5 L7,3.6 C7,1.5 5.7,0 3.5,0 Z"/>
<path transform="translate(301.30,592.50)" d="M6.4,0 L1,0 L0.5,4.5 C1.3,3.8 2.4,3.5 3.5,3.5 C5.6,3.5 7,4.8 7,6.8 C7,8.8 5.6,10.1 3.5,10.1 C1.8,10.1 0.6,9.4 0,8"/><path transform="translate(311.00,592.50)" d="M3.5,0 C1.3,0 0,1.5 0,3.6 L0,6.5 C0,8.6 1.3,10.1 3.5,10.1 C5.7,10.1 7,8.6 7,6.5 L7,3.6 C7,1.5 5.7,0 3.5,0 Z"/><path transform="translate(320.70,592.50)" d="M3.5,0 C1.3,0 0,1.5 0,3.6 L0,6.5 C0,8.6 1.3,10.1 3.5,10.1 C5.7,10.1 7,8.6 7,6.5 L7,3.6 C7,1.5 5.7,0 3.5,0 Z"/>
<path transform="translate(11.50,369.40) rotate(-90)" d="M2.3,-10.4 L2.3,-2.2 C2.3,-0.8 3,0 4.4,0 M0,-7.6 L4.5,-7.6 M12.9,-7.6 L12.9,0 M12.9,-5.4 C12.2,-6.8 10.9,-7.7 9.3,-7.7 C7,-7.7 5.5,-6.1 5.5,-3.8 C5.5,-1.5 7,0.1 9.3,0.1 C10.9,0.1 12.2,-0.8 12.9,-2.2 M15.8,-7.6 L15.8,0 M15.8,-5.2 C16.5,-6.8 17.5,-7.7 18.9,-7.7 C20.4,-7.7 21.2,-6.8 21.2,-5.1 L21.2,0 M27.6,3.3 L30.3,-7.6 C30.8,-9.4 32,-10.5 33.6,-10.5 C35.1,-10.5 36,-9.6 36,-8.3 C36,-6.8 34.8,-5.7 32.8,-5.6 C34.6,-5.5 35.6,-4.6 35.6,-3.2 C35.6,-1.3 34.1,0.1 32.2,0.1 C30.7,0.1 29.6,-0.6 29.2,-1.9"/>
<path transform="translate(251.90,624.60)" d="M0,-8 L0,0 M0,-5.6 C0.5,-7.2 1.5,-8.1 2.8,-8.1 C4.3,-8.1 5,-7.2 5,-5.5 L5,0 M5,-5.6 C5.5,-7.2 6.5,-8.1 7.8,-8.1 C9.3,-8.1 10,-7.2 10,-5.5 L10,0 M12.5,2.3 L14.7,-2.9 L16.9,2.3 M13.3,0.6 L16.1,0.6 M26.2,-11 C24.4,-8.8 23.6,-6.4 23.6,-3.8 C23.6,-1.2 24.4,1.4 26.2,3.6 M38.6,-8 C37.9,-9.7 36.4,-10.8 34.4,-10.8 C31.4,-10.8 29.6,-8.6 29.6,-5.4 C29.6,-2.2 31.4,0.1 34.4,0.1 C36.9,0.1 38.7,-1.5 38.7,-4.2 L38.7,-4.6 L34.8,-4.6 M41.6,-4.3 L48.6,-4.3 C48.6,-6.6 47.3,-8.1 45.2,-8.1 C43,-8.1 41.6,-6.4 41.6,-4 C41.6,-1.6 43,0.1 45.3,0.1 C46.8,0.1 47.9,-0.6 48.5,-1.8 M49.8,-10.7 L53.8,0 L57.8,-10.7 M58.6,-11 C60.4,-8.8 61.2,-6.4 61.2,-3.8 C61.2,-1.2 60.4,1.4 58.6,3.6"/>
</g>
<text transform="translate(79.8,419.4) scale(0.885,1)" font-family="Liberation Serif, serif" font-style="italic" font-size="17.6">3</text>
<text transform="translate(108.8,442.0) scale(0.885,1)" font-family="Liberation Serif, serif" font-style="italic" font-size="17.6">6</text>
<text transform="translate(177.0,463.8) scale(0.885,1)" font-family="Liberation Serif, serif" font-style="italic" font-size="17.6">9</text>
<text transform="translate(220.5,463.8) scale(0.885,1)" font-family="Liberation Serif, serif" font-style="italic" font-size="17.6">10</text>
<text transform="translate(235.4,354.6) scale(0.9,1)" font-family="Liberation Serif, serif" font-weight="bold" font-size="17.5">O</text><text x="247.5" y="359.2" font-family="Liberation Serif, serif" font-weight="bold" font-size="10.0">H</text><text x="255.4" y="352.3" font-family="Liberation Serif, serif" font-weight="bold" font-size="11">+</text>
<text transform="translate(235.3,376.6) scale(0.97,1)" font-family="Liberation Serif, serif" font-size="16">μ&lt;0</text>
</g>
<g>
<path d="M387.0,332.5 H641.0" stroke="#000" stroke-opacity="0.5" stroke-width="1" fill="none"/>
<path d="M640.5,332.5 V585.5" stroke="#000" stroke-opacity="0.5" stroke-width="1" fill="none"/>
<path d="M387.5,332.5 V585.5" stroke="#000" stroke-opacity="0.85" stroke-width="1" fill="none"/>
<path d="M387.0,585.0 H641.0" stroke="#000" stroke-opacity="0.6" stroke-width="1" fill="none"/>
<rect x="387.2" y="576.1" width="253.8" height="8.9" fill="#ffff00"/>
<path d="M387.00,576.29 h6.5 M387.00,567.59 h6.5 M387.00,558.88 h6.5 M387.00,550.17 h11.5 M387.00,541.47 h6.5 M387.00,532.76 h6.5 M387.00,524.05 h6.5 M387.00,515.34 h6.5 M387.00,506.64 h11.5 M387.00,497.93 h6.5 M387.00,489.22 h6.5 M387.00,480.52 h6.5 M387.00,471.81 h6.5 M387.00,463.10 h11.5 M387.00,454.40 h6.5 M387.00,445.69 h6.5 M387.00,436.98 h6.5 M387.00,428.28 h6.5 M387.00,419.57 h11.5 M387.00,410.86 h6.5 M387.00,402.16 h6.5 M387.00,393.45 h6.5 M387.00,384.74 h6.5 M387.00,376.03 h11.5 M387.00,367.33 h6.5 M387.00,358.62 h6.5 M387.00,349.91 h6.5 M387.00,341.21 h6.5 M387.00,332.50 h11.5 M400.15,585.50 v-5.5 M412.80,585.50 v-5.5 M425.45,585.50 v-5.5 M438.10,585.50 v-5.5 M450.75,585.50 v-11.5 M463.40,585.50 v-5.5 M476.05,585.50 v-5.5 M488.70,585.50 v-5.5 M501.35,585.50 v-5.5 M514.00,585.50 v-11.5 M526.65,585.50 v-5.5 M539.30,585.50 v-5.5 M551.95,585.50 v-5.5 M564.60,585.50 v-5.5 M577.25,585.50 v-11.5 M589.90,585.50 v-5.5 M602.55,585.50 v-5.5 M615.20,585.50 v-5.5 M627.85,585.50 v-5.5 M640.50,585.50 v-11.5" stroke="#000" stroke-opacity="0.6" stroke-width="1" fill="none"/>
<path d="M388.00,419.60 C388.61,419.00 390.42,417.20 391.64,416.02 C392.87,414.84 394.10,413.67 395.35,412.51 C396.59,411.35 397.84,410.20 399.10,409.06 C400.37,407.93 401.64,406.80 402.92,405.69 C404.20,404.57 405.49,403.47 406.78,402.38 C408.08,401.29 409.39,400.21 410.70,399.14 C412.02,398.07 413.34,397.01 414.67,395.96 C416.00,394.91 417.34,393.87 418.69,392.84 C420.04,391.81 421.39,390.80 422.75,389.79 C424.12,388.78 425.49,387.78 426.86,386.80 C428.24,385.81 429.63,384.83 431.02,383.87 C432.41,382.90 433.81,381.95 435.21,381.00 C436.62,380.05 438.03,379.12 439.45,378.19 C440.87,377.26 442.30,376.34 443.73,375.44 C445.16,374.53 446.60,373.63 448.04,372.74 C449.49,371.85 450.94,370.97 452.40,370.10 C453.85,369.23 455.32,368.37 456.78,367.52 C458.25,366.67 459.73,365.82 461.20,364.99 C462.68,364.16 464.17,363.33 465.66,362.52 C467.15,361.70 468.64,360.89 470.14,360.09 C471.64,359.30 473.14,358.51 474.65,357.72 C476.16,356.94 477.67,356.17 479.19,355.41 C480.71,354.64 482.23,353.88 483.76,353.14 C485.28,352.39 486.81,351.65 488.35,350.92 C489.88,350.18 491.42,349.46 492.96,348.74 C494.50,348.03 496.04,347.32 497.59,346.62 C499.14,345.92 500.69,345.23 502.25,344.54 C503.80,343.86 505.36,343.18 506.92,342.51 C508.48,341.84 510.04,341.18 511.61,340.52 C513.17,339.87 514.74,339.22 516.31,338.58 C517.88,337.94 519.45,337.30 521.03,336.68 C522.60,336.05 524.18,335.43 525.76,334.82 C527.33,334.20 529.71,333.30 530.50,333.00" stroke="#000" fill="none" stroke-width="0.9"/>
<path d="M388.15,454.79 C388.77,454.21 390.65,452.47 391.92,451.33 C393.18,450.19 394.46,449.07 395.74,447.96 C397.02,446.85 398.31,445.75 399.60,444.67 C400.90,443.58 402.20,442.51 403.52,441.46 C404.83,440.40 406.15,439.36 407.47,438.32 C408.80,437.29 410.13,436.27 411.47,435.27 C412.81,434.26 414.16,433.26 415.51,432.28 C416.87,431.30 418.23,430.33 419.60,429.37 C420.96,428.41 422.34,427.46 423.72,426.52 C425.10,425.58 426.49,424.66 427.88,423.74 C429.28,422.83 430.68,421.92 432.08,421.03 C433.49,420.13 434.90,419.25 436.32,418.37 C437.74,417.50 439.17,416.64 440.60,415.78 C442.03,414.93 443.47,414.08 444.91,413.24 C446.35,412.41 447.80,411.58 449.25,410.77 C450.70,409.95 452.16,409.14 453.63,408.35 C455.09,407.55 456.56,406.76 458.04,405.98 C459.51,405.21 460.99,404.44 462.48,403.68 C463.96,402.92 465.45,402.17 466.95,401.44 C468.44,400.70 469.94,399.97 471.45,399.25 C472.95,398.53 474.46,397.82 475.97,397.12 C477.49,396.42 479.01,395.73 480.53,395.05 C482.05,394.37 483.58,393.69 485.11,393.03 C486.64,392.36 488.17,391.71 489.71,391.06 C491.25,390.41 492.79,389.77 494.34,389.13 C495.89,388.50 497.44,387.87 498.99,387.25 C500.55,386.63 502.10,386.01 503.67,385.41 C505.23,384.80 506.79,384.20 508.36,383.60 C509.93,383.00 511.50,382.41 513.07,381.83 C514.65,381.24 516.23,380.66 517.81,380.09 C519.39,379.52 520.97,378.95 522.56,378.39 C524.14,377.82 525.73,377.27 527.32,376.72 C528.91,376.16 530.51,375.62 532.10,375.08 C533.70,374.54 535.30,374.00 536.90,373.47 C538.50,372.94 540.11,372.41 541.71,371.89 C543.32,371.37 544.92,370.86 546.53,370.35 C548.14,369.84 549.75,369.33 551.37,368.83 C552.98,368.33 554.60,367.84 556.21,367.35 C557.83,366.86 559.45,366.37 561.07,365.89 C562.68,365.41 564.31,364.94 565.93,364.46 C567.55,363.99 569.17,363.53 570.80,363.06 C572.42,362.60 574.05,362.14 575.67,361.69 C577.30,361.24 578.93,360.79 580.55,360.34 C582.18,359.90 583.81,359.46 585.44,359.03 C587.07,358.59 588.70,358.16 590.33,357.74 C591.96,357.32 593.59,356.90 595.22,356.49 C596.85,356.07 598.48,355.67 600.11,355.26 C601.74,354.86 603.37,354.47 605.00,354.08 C606.63,353.69 608.26,353.31 609.89,352.93 C611.52,352.55 613.15,352.18 614.78,351.82 C616.41,351.46 618.04,351.10 619.67,350.75 C621.30,350.40 622.92,350.06 624.55,349.72 C626.18,349.38 627.80,349.06 629.43,348.73 C631.05,348.41 632.68,348.10 634.30,347.79 C635.92,347.49 638.35,347.05 639.16,346.90" stroke="#2020ff" fill="none" stroke-width="0.9"/>
<path d="M388.68,524.71 C389.37,524.22 391.44,522.74 392.83,521.78 C394.23,520.82 395.62,519.87 397.03,518.93 C398.43,518.00 399.84,517.07 401.26,516.16 C402.67,515.24 404.09,514.34 405.52,513.45 C406.95,512.56 408.38,511.69 409.82,510.82 C411.26,509.95 412.70,509.10 414.15,508.26 C415.60,507.41 417.05,506.58 418.51,505.76 C419.97,504.94 421.43,504.13 422.90,503.33 C424.37,502.53 425.84,501.74 427.32,500.97 C428.80,500.19 430.29,499.42 431.77,498.67 C433.26,497.91 434.76,497.16 436.25,496.43 C437.75,495.69 439.26,494.97 440.76,494.25 C442.27,493.53 443.78,492.83 445.30,492.13 C446.81,491.44 448.33,490.75 449.86,490.07 C451.38,489.39 452.91,488.73 454.44,488.07 C455.97,487.41 457.51,486.76 459.05,486.12 C460.59,485.48 462.13,484.85 463.68,484.23 C465.23,483.60 466.78,482.99 468.34,482.39 C469.89,481.78 471.45,481.18 473.01,480.60 C474.58,480.01 476.14,479.43 477.71,478.86 C479.28,478.28 480.85,477.72 482.43,477.16 C484.00,476.61 485.58,476.06 487.16,475.52 C488.74,474.98 490.33,474.44 491.92,473.92 C493.50,473.39 495.10,472.88 496.69,472.36 C498.28,471.85 499.88,471.35 501.48,470.85 C503.07,470.35 504.68,469.86 506.28,469.38 C507.88,468.90 509.49,468.42 511.10,467.95 C512.71,467.48 514.32,467.02 515.93,466.56 C517.54,466.10 519.16,465.65 520.78,465.20 C522.39,464.76 524.01,464.32 525.63,463.88 C527.25,463.45 528.88,463.02 530.50,462.60 C532.13,462.18 533.75,461.76 535.38,461.35 C537.01,460.94 538.64,460.53 540.27,460.13 C541.90,459.73 543.53,459.33 545.17,458.94 C546.80,458.55 548.44,458.16 550.07,457.78 C551.71,457.40 553.35,457.02 554.99,456.65 C556.63,456.27 558.27,455.91 559.91,455.54 C561.55,455.18 563.19,454.82 564.83,454.46 C566.47,454.10 568.12,453.75 569.76,453.40 C571.40,453.05 573.05,452.71 574.69,452.36 C576.34,452.02 577.98,451.68 579.63,451.35 C581.27,451.01 582.92,450.68 584.57,450.35 C586.21,450.02 587.86,449.70 589.51,449.37 C591.15,449.05 592.80,448.73 594.45,448.41 C596.09,448.09 597.74,447.78 599.38,447.46 C601.03,447.15 602.68,446.84 604.32,446.53 C605.97,446.22 607.61,445.92 609.26,445.61 C610.90,445.30 612.55,445.00 614.19,444.70 C615.83,444.40 617.48,444.10 619.12,443.80 C620.76,443.50 622.40,443.20 624.04,442.91 C625.68,442.61 627.32,442.31 628.96,442.02 C630.60,441.73 632.23,441.43 633.87,441.14 C635.51,440.85 637.96,440.41 638.78,440.26" stroke="#00ee00" fill="none" stroke-width="0.9"/>
<path d="M388.65,559.46 C389.38,559.02 391.56,557.68 393.02,556.82 C394.48,555.95 395.95,555.10 397.42,554.26 C398.90,553.42 400.37,552.60 401.85,551.78 C403.34,550.97 404.82,550.17 406.31,549.38 C407.80,548.59 409.30,547.82 410.80,547.06 C412.30,546.29 413.80,545.54 415.31,544.80 C416.81,544.06 418.33,543.33 419.84,542.62 C421.36,541.90 422.88,541.19 424.40,540.50 C425.93,539.80 427.46,539.12 428.99,538.45 C430.52,537.77 432.06,537.11 433.60,536.46 C435.14,535.81 436.68,535.16 438.23,534.53 C439.77,533.90 441.33,533.28 442.88,532.67 C444.43,532.05 445.99,531.45 447.55,530.85 C449.11,530.26 450.68,529.68 452.25,529.10 C453.82,528.52 455.39,527.96 456.96,527.40 C458.54,526.84 460.11,526.29 461.69,525.75 C463.27,525.20 464.86,524.67 466.45,524.14 C468.03,523.61 469.62,523.10 471.21,522.58 C472.81,522.07 474.40,521.57 476.00,521.07 C477.60,520.57 479.20,520.08 480.80,519.60 C482.41,519.12 484.01,518.64 485.62,518.17 C487.23,517.70 488.84,517.23 490.45,516.78 C492.06,516.32 493.68,515.86 495.30,515.42 C496.92,514.97 498.54,514.53 500.16,514.09 C501.78,513.66 503.40,513.23 505.03,512.80 C506.66,512.37 508.28,511.95 509.91,511.53 C511.54,511.12 513.18,510.70 514.81,510.30 C516.44,509.89 518.08,509.48 519.72,509.08 C521.35,508.68 522.99,508.29 524.63,507.90 C526.27,507.50 527.91,507.12 529.56,506.73 C531.20,506.35 532.84,505.97 534.49,505.60 C536.13,505.22 537.78,504.85 539.43,504.48 C541.08,504.12 542.73,503.75 544.38,503.39 C546.03,503.03 547.68,502.68 549.33,502.33 C550.98,501.98 552.64,501.63 554.29,501.29 C555.95,500.95 557.60,500.61 559.26,500.27 C560.91,499.94 562.57,499.61 564.22,499.28 C565.88,498.95 567.54,498.63 569.20,498.31 C570.85,497.99 572.51,497.68 574.17,497.37 C575.83,497.06 577.49,496.75 579.15,496.45 C580.81,496.14 582.47,495.84 584.13,495.55 C585.79,495.25 587.45,494.96 589.11,494.67 C590.76,494.39 592.42,494.10 594.08,493.82 C595.74,493.54 597.40,493.27 599.06,492.99 C600.72,492.72 602.38,492.45 604.04,492.19 C605.70,491.92 607.35,491.66 609.01,491.41 C610.67,491.15 612.33,490.90 613.98,490.65 C615.64,490.40 617.30,490.15 618.95,489.91 C620.61,489.67 622.26,489.43 623.91,489.19 C625.57,488.96 627.22,488.73 628.87,488.50 C630.52,488.27 632.17,488.05 633.82,487.83 C635.47,487.61 637.94,487.29 638.77,487.18" stroke="#ff0000" fill="none" stroke-width="0.9"/>
<path d="M414.29,584.59 C415.06,584.24 417.36,583.20 418.91,582.52 C420.45,581.84 422.00,581.17 423.55,580.51 C425.10,579.85 426.65,579.21 428.20,578.57 C429.76,577.93 431.32,577.31 432.88,576.69 C434.44,576.08 436.01,575.47 437.58,574.88 C439.15,574.29 440.72,573.70 442.29,573.13 C443.87,572.55 445.44,571.99 447.02,571.43 C448.60,570.88 450.19,570.33 451.77,569.79 C453.36,569.26 454.95,568.73 456.54,568.21 C458.13,567.69 459.72,567.18 461.32,566.68 C462.91,566.18 464.51,565.69 466.11,565.20 C467.72,564.72 469.32,564.24 470.92,563.78 C472.53,563.31 474.14,562.85 475.75,562.40 C477.36,561.95 478.97,561.50 480.59,561.07 C482.20,560.63 483.82,560.20 485.44,559.78 C487.06,559.36 488.68,558.95 490.30,558.54 C491.93,558.13 493.55,557.73 495.18,557.34 C496.81,556.94 498.44,556.56 500.07,556.18 C501.70,555.80 503.33,555.42 504.97,555.05 C506.60,554.69 508.24,554.32 509.87,553.97 C511.51,553.61 513.15,553.26 514.79,552.92 C516.43,552.57 518.07,552.23 519.72,551.90 C521.36,551.57 523.01,551.24 524.65,550.91 C526.30,550.59 527.95,550.27 529.60,549.96 C531.25,549.64 532.90,549.34 534.55,549.03 C536.20,548.73 537.85,548.43 539.50,548.13 C541.16,547.84 542.81,547.55 544.47,547.26 C546.12,546.97 547.78,546.69 549.44,546.41 C551.09,546.13 552.75,545.86 554.41,545.59 C556.07,545.32 557.73,545.05 559.39,544.79 C561.05,544.53 562.71,544.27 564.37,544.02 C566.03,543.76 567.69,543.51 569.36,543.27 C571.02,543.02 572.68,542.77 574.34,542.53 C576.01,542.29 577.67,542.06 579.33,541.82 C581.00,541.59 582.66,541.36 584.33,541.13 C585.99,540.90 587.66,540.68 589.32,540.46 C590.98,540.24 592.65,540.02 594.31,539.80 C595.98,539.59 597.64,539.37 599.31,539.16 C600.97,538.95 602.64,538.74 604.30,538.54 C605.96,538.33 607.63,538.13 609.29,537.93 C610.95,537.73 612.62,537.53 614.28,537.33 C615.94,537.14 617.61,536.94 619.27,536.75 C620.93,536.56 622.59,536.37 624.25,536.18 C625.91,535.99 627.57,535.80 629.23,535.62 C630.89,535.43 632.55,535.25 634.21,535.07 C635.87,534.88 638.35,534.61 639.18,534.52" stroke="#000" fill="none" stroke-width="0.9"/>
<path d="M387.5,477.8 L640.5,477.8" fill="none" stroke="#000" stroke-width="2.25" stroke-dasharray="7.2 7.3"/>
<path d="M387.5,535.9 L640.5,535.9" fill="none" stroke="#000" stroke-width="2.15" stroke-dasharray="3.7 3.9"/>
<path d="M387.5,575.9 L640.5,575.9" fill="none" stroke="#000" stroke-width="2.0" stroke-dasharray="1.6 2.4"/>
<g stroke="#000" stroke-opacity="0.55" stroke-width="0.95" fill="none" stroke-linecap="round" stroke-linejoin="round">
<path transform="translate(355.20,545.02)" d="M1.9,2.1 L5.4,0 L5.4,10.1"/><path transform="translate(364.90,545.02)" d="M3.5,0 C1.3,0 0,1.5 0,3.6 L0,6.5 C0,8.6 1.3,10.1 3.5,10.1 C5.7,10.1 7,8.6 7,6.5 L7,3.6 C7,1.5 5.7,0 3.5,0 Z"/>
<path transform="translate(355.20,501.49)" d="M0.3,2.9 C0.3,1.2 1.6,0 3.5,0 C5.4,0 6.8,1.2 6.8,2.8 C6.8,4.1 5.9,5.1 4.6,6.2 L0,10.1 L7,10.1"/><path transform="translate(364.90,501.49)" d="M3.5,0 C1.3,0 0,1.5 0,3.6 L0,6.5 C0,8.6 1.3,10.1 3.5,10.1 C5.7,10.1 7,8.6 7,6.5 L7,3.6 C7,1.5 5.7,0 3.5,0 Z"/>
<path transform="translate(355.20,457.95)" d="M0.4,2.2 C0.8,0.8 2,0 3.5,0 C5.3,0 6.6,1.1 6.6,2.6 C6.6,4 5.4,4.9 3.3,4.9 C5.6,4.9 7,5.9 7,7.5 C7,9.1 5.6,10.1 3.5,10.1 C1.8,10.1 0.5,9.3 0,7.9"/><path transform="translate(364.90,457.95)" d="M3.5,0 C1.3,0 0,1.5 0,3.6 L0,6.5 C0,8.6 1.3,10.1 3.5,10.1 C5.7,10.1 7,8.6 7,6.5 L7,3.6 C7,1.5 5.7,0 3.5,0 Z"/>
<path transform="translate(355.20,414.42)" d="M5.3,10.1 L5.3,0 L0,7.2 L7.4,7.2"/><path transform="translate(364.90,414.42)" d="M3.5,0 C1.3,0 0,1.5 0,3.6 L0,6.5 C0,8.6 1.3,10.1 3.5,10.1 C5.7,10.1 7,8.6 7,6.5 L7,3.6 C7,1.5 5.7,0 3.5,0 Z"/>
<path transform="translate(355.20,370.88)" d="M6.4,0 L1,0 L0.5,4.5 C1.3,3.8 2.4,3.5 3.5,3.5 C5.6,3.5 7,4.8 7,6.8 C7,8.8 5.6,10.1 3.5,10.1 C1.8,10.1 0.6,9.4 0,8"/><path transform="translate(364.90,370.88)" d="M3.5,0 C1.3,0 0,1.5 0,3.6 L0,6.5 C0,8.6 1.3,10.1 3.5,10.1 C5.7,10.1 7,8.6 7,6.5 L7,3.6 C7,1.5 5.7,0 3.5,0 Z"/>
<path transform="translate(355.20,327.35)" d="M6.4,1.6 C5.9,0.6 4.9,0 3.7,0 C1.4,0 0,2 0,5.4 C0,8.4 1.3,10.1 3.5,10.1 C5.5,10.1 7,8.8 7,6.8 C7,4.9 5.6,3.7 3.6,3.7 C1.6,3.7 0,4.9 0,6.8"/><path transform="translate(364.90,327.35)" d="M3.5,0 C1.3,0 0,1.5 0,3.6 L0,6.5 C0,8.6 1.3,10.1 3.5,10.1 C5.7,10.1 7,8.6 7,6.5 L7,3.6 C7,1.5 5.7,0 3.5,0 Z"/>
<path transform="translate(374.30,592.50)" d="M1.9,2.1 L5.4,0 L5.4,10.1"/><path transform="translate(384.00,592.50)" d="M3.5,0 C1.3,0 0,1.5 0,3.6 L0,6.5 C0,8.6 1.3,10.1 3.5,10.1 C5.7,10.1 7,8.6 7,6.5 L7,3.6 C7,1.5 5.7,0 3.5,0 Z"/><path transform="translate(393.70,592.50)" d="M3.5,0 C1.3,0 0,1.5 0,3.6 L0,6.5 C0,8.6 1.3,10.1 3.5,10.1 C5.7,10.1 7,8.6 7,6.5 L7,3.6 C7,1.5 5.7,0 3.5,0 Z"/>
<path transform="translate(437.55,592.50)" d="M0.3,2.9 C0.3,1.2 1.6,0 3.5,0 C5.4,0 6.8,1.2 6.8,2.8 C6.8,4.1 5.9,5.1 4.6,6.2 L0,10.1 L7,10.1"/><path transform="translate(447.25,592.50)" d="M3.5,0 C1.3,0 0,1.5 0,3.6 L0,6.5 C0,8.6 1.3,10.1 3.5,10.1 C5.7,10.1 7,8.6 7,6.5 L7,3.6 C7,1.5 5.7,0 3.5,0 Z"/><path transform="translate(456.95,592.50)" d="M3.5,0 C1.3,0 0,1.5 0,3.6 L0,6.5 C0,8.6 1.3,10.1 3.5,10.1 C5.7,10.1 7,8.6 7,6.5 L7,3.6 C7,1.5 5.7,0 3.5,0 Z"/>
<path transform="translate(500.80,592.50)" d="M0.4,2.2 C0.8,0.8 2,0 3.5,0 C5.3,0 6.6,1.1 6.6,2.6 C6.6,4 5.4,4.9 3.3,4.9 C5.6,4.9 7,5.9 7,7.5 C7,9.1 5.6,10.1 3.5,10.1 C1.8,10.1 0.5,9.3 0,7.9"/><path transform="translate(510.50,592.50)" d="M3.5,0 C1.3,0 0,1.5 0,3.6 L0,6.5 C0,8.6 1.3,10.1 3.5,10.1 C5.7,10.1 7,8.6 7,6.5 L7,3.6 C7,1.5 5.7,0 3.5,0 Z"/><path transform="translate(520.20,592.50)" d="M3.5,0 C1.3,0 0,1.5 0,3.6 L0,6.5 C0,8.6 1.3,10.1 3.5,10.1 C5.7,10.1 7,8.6 7,6.5 L7,3.6 C7,1.5 5.7,0 3.5,0 Z"/>
<path transform="translate(564.05,592.50)" d="M5.3,10.1 L5.3,0 L0,7.2 L7.4,7.2"/><path transform="translate(573.75,592.50)" d="M3.5,0 C1.3,0 0,1.5 0,3.6 L0,6.5 C0,8.6 1.3,10.1 3.5,10.1 C5.7,10.1 7,8.6 7,6.5 L7,3.6 C7,1.5 5.7,0 3.5,0 Z"/><path transform="translate(583.45,592.50)" d="M3.5,0 C1.3,0 0,1.5 0,3.6 L0,6.5 C0,8.6 1.3,10.1 3.5,10.1 C5.7,10.1 7,8.6 7,6.5 L7,3.6 C7,1.5 5.7,0 3.5,0 Z"/>
<path transform="translate(627.30,592.50)" d="M6.4,0 L1,0 L0.5,4.5 C1.3,3.8 2.4,3.5 3.5,3.5 C5.6,3.5 7,4.8 7,6.8 C7,8.8 5.6,10.1 3.5,10.1 C1.8,10.1 0.6,9.4 0,8"/><path transform="translate(637.00,592.50)" d="M3.5,0 C1.3,0 0,1.5 0,3.6 L0,6.5 C0,8.6 1.3,10.1 3.5,10.1 C5.7,10.1 7,8.6 7,6.5 L7,3.6 C7,1.5 5.7,0 3.5,0 Z"/><path transform="translate(646.70,592.50)" d="M3.5,0 C1.3,0 0,1.5 0,3.6 L0,6.5 C0,8.6 1.3,10.1 3.5,10.1 C5.7,10.1 7,8.6 7,6.5 L7,3.6 C7,1.5 5.7,0 3.5,0 Z"/>
<path transform="translate(337.50,369.40) rotate(-90)" d="M2.3,-10.4 L2.3,-2.2 C2.3,-0.8 3,0 4.4,0 M0,-7.6 L4.5,-7.6 M12.9,-7.6 L12.9,0 M12.9,-5.4 C12.2,-6.8 10.9,-7.7 9.3,-7.7 C7,-7.7 5.5,-6.1 5.5,-3.8 C5.5,-1.5 7,0.1 9.3,0.1 C10.9,0.1 12.2,-0.8 12.9,-2.2 M15.8,-7.6 L15.8,0 M15.8,-5.2 C16.5,-6.8 17.5,-7.7 18.9,-7.7 C20.4,-7.7 21.2,-6.8 21.2,-5.1 L21.2,0 M27.6,3.3 L30.3,-7.6 C30.8,-9.4 32,-10.5 33.6,-10.5 C35.1,-10.5 36,-9.6 36,-8.3 C36,-6.8 34.8,-5.7 32.8,-5.6 C34.6,-5.5 35.6,-4.6 35.6,-3.2 C35.6,-1.3 34.1,0.1 32.2,0.1 C30.7,0.1 29.6,-0.6 29.2,-1.9"/>
<path transform="translate(577.90,624.60)" d="M0,-8 L0,0 M0,-5.6 C0.5,-7.2 1.5,-8.1 2.8,-8.1 C4.3,-8.1 5,-7.2 5,-5.5 L5,0 M5,-5.6 C5.5,-7.2 6.5,-8.1 7.8,-8.1 C9.3,-8.1 10,-7.2 10,-5.5 L10,0 M12.5,2.3 L14.7,-2.9 L16.9,2.3 M13.3,0.6 L16.1,0.6 M26.2,-11 C24.4,-8.8 23.6,-6.4 23.6,-3.8 C23.6,-1.2 24.4,1.4 26.2,3.6 M38.6,-8 C37.9,-9.7 36.4,-10.8 34.4,-10.8 C31.4,-10.8 29.6,-8.6 29.6,-5.4 C29.6,-2.2 31.4,0.1 34.4,0.1 C36.9,0.1 38.7,-1.5 38.7,-4.2 L38.7,-4.6 L34.8,-4.6 M41.6,-4.3 L48.6,-4.3 C48.6,-6.6 47.3,-8.1 45.2,-8.1 C43,-8.1 41.6,-6.4 41.6,-4 C41.6,-1.6 43,0.1 45.3,0.1 C46.8,0.1 47.9,-0.6 48.5,-1.8 M49.8,-10.7 L53.8,0 L57.8,-10.7 M58.6,-11 C60.4,-8.8 61.2,-6.4 61.2,-3.8 C61.2,-1.2 60.4,1.4 58.6,3.6"/>
</g>
<text transform="translate(450.5,359.0) scale(0.885,1)" font-family="Liberation Serif, serif" font-style="italic" font-size="17.6">20</text>
<text transform="translate(450.5,402.4) scale(0.885,1)" font-family="Liberation Serif, serif" font-style="italic" font-size="17.6">18</text>
<text transform="translate(514.0,463.8) scale(0.885,1)" font-family="Liberation Serif, serif" font-style="italic" font-size="17.6">14</text>
<text transform="translate(514.0,507.3) scale(0.885,1)" font-family="Liberation Serif, serif" font-style="italic" font-size="17.6">12</text>
<text transform="translate(481.5,555.2) scale(0.885,1)" font-family="Liberation Serif, serif" font-style="italic" font-size="17.6">10</text>
<text transform="translate(576.6,386.5) scale(0.9,1)" font-family="Liberation Serif, serif" font-weight="bold" font-size="17.5">O</text><text x="588.7" y="391.1" font-family="Liberation Serif, serif" font-weight="bold" font-size="10.0">A</text>
<text transform="translate(576.6,407.5) scale(0.97,1)" font-family="Liberation Serif, serif" font-size="16">μ&lt;0</text>
</g>
</svg>
</body></html>
